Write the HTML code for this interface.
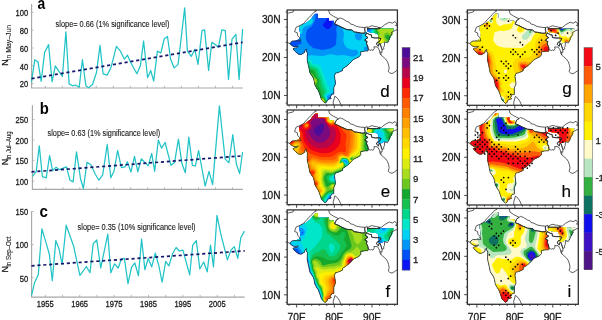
<!DOCTYPE html><html><head><meta charset="utf-8"><style>html,body{margin:0;padding:0;background:#fff;width:602px;height:320px;overflow:hidden}svg{display:block}</style></head><body>
<svg width="602" height="320" viewBox="0 0 602 320" style="will-change:transform" font-family='"Liberation Sans", sans-serif'>
<style>text{stroke:#1a1a1a;stroke-width:0.28px;paint-order:stroke}</style>
<rect width="602" height="320" fill="#fff"/>
<defs>
<clipPath id="fr"><rect x="0" y="0" width="110.2" height="94.8"/></clipPath>
<clipPath id="mm"><path d="M28.20,3.71 L30.69,3.71 L30.69,7.88 L41.85,7.88 L41.85,10.61 L46.37,10.61 L47.46,14.06 L51.12,15.46 L54.63,17.32 L59.57,19.48 L64.77,19.97 L66.92,21.87 L69.82,22.25 L74.38,23.12 L77.51,23.08 L78.42,21.98 L79.55,22.74 L78.42,25.39 L80.30,27.48 L78.42,28.99 L77.66,30.32 L79.92,31.46 L79.36,33.73 L80.49,36.38 L81.06,39.42 L80.64,40.97 L78.08,40.93 L73.44,41.69 L73.63,44.57 L71.63,46.81 L66.20,49.35 L61.98,53.82 L59.15,56.21 L55.38,58.67 L55.38,60.41 L53.50,61.36 L50.10,62.72 L48.33,62.91 L47.24,65.79 L47.99,70.72 L48.22,73.87 L46.60,77.47 L46.60,83.91 L44.64,84.10 L42.94,86.98 L44.07,88.23 L40.64,89.33 L39.36,91.91 L37.85,92.97 L34.27,89.44 L32.54,84.14 L31.10,80.31 L29.78,78.53 L27.75,74.89 L26.84,70.15 L26.16,67.77 L22.73,62.57 L21.19,55.22 L20.06,50.37 L20.06,45.78 L20.36,43.21 L19.04,40.93 L19.23,38.85 L17.72,40.55 L17.34,42.45 L13.87,44.49 L11.20,44.04 L8.29,41.69 L5.66,38.85 L6.79,38.09 L9.43,37.71 L11.12,36.19 L8.67,36.57 L6.41,36.57 L4.15,35.25 L2.56,33.39 L4.52,31.46 L9.05,30.51 L12.44,28.80 L13.20,25.01 L12.44,20.47 L12.06,17.05 L13.20,15.54 L18.47,13.27 L23.19,9.47 L27.14,4.55Z"/></clipPath>
<clipPath id="nm"><path d="M80.15,18.72 L106.16,18.72 L105.45,23.35 L102.66,28.27 L101.22,31.08 L97.00,31.84 L94.17,33.20 L91.35,33.20 L91.35,25.51 L89.95,23.38 L85.73,22.74 L80.87,21.98 L80.15,21.60Z"/></clipPath>
</defs>
<path d="M31.6,4.0 V88.0 H242.9" fill="none" stroke="#a8a8a8" stroke-width="1.15"/>
<path d="M31.6,83.6 h2" stroke="#a8a8a8" stroke-width="0.8"/>
<text x="28.2" y="87.50" font-size="8.6" text-anchor="end" fill="#1a1a1a" transform="translate(28.2 0) scale(0.88 1) translate(-28.2 0)">20</text>
<path d="M31.6,65.8 h2" stroke="#a8a8a8" stroke-width="0.8"/>
<text x="28.2" y="69.68" font-size="8.6" text-anchor="end" fill="#1a1a1a" transform="translate(28.2 0) scale(0.88 1) translate(-28.2 0)">40</text>
<path d="M31.6,48.0 h2" stroke="#a8a8a8" stroke-width="0.8"/>
<text x="28.2" y="51.86" font-size="8.6" text-anchor="end" fill="#1a1a1a" transform="translate(28.2 0) scale(0.88 1) translate(-28.2 0)">60</text>
<path d="M31.6,30.1 h2" stroke="#a8a8a8" stroke-width="0.8"/>
<text x="28.2" y="34.04" font-size="8.6" text-anchor="end" fill="#1a1a1a" transform="translate(28.2 0) scale(0.88 1) translate(-28.2 0)">80</text>
<path d="M31.6,12.3 h2" stroke="#a8a8a8" stroke-width="0.8"/>
<text x="28.2" y="16.22" font-size="8.6" text-anchor="end" fill="#1a1a1a" transform="translate(28.2 0) scale(0.88 1) translate(-28.2 0)">100</text>
<path d="M45.22,88.0 v-2.2" stroke="#a8a8a8" stroke-width="0.8"/>
<path d="M62.25,88.0 v-2.2" stroke="#a8a8a8" stroke-width="0.8"/>
<path d="M79.27,88.0 v-2.2" stroke="#a8a8a8" stroke-width="0.8"/>
<path d="M96.29,88.0 v-2.2" stroke="#a8a8a8" stroke-width="0.8"/>
<path d="M113.32,88.0 v-2.2" stroke="#a8a8a8" stroke-width="0.8"/>
<path d="M130.34,88.0 v-2.2" stroke="#a8a8a8" stroke-width="0.8"/>
<path d="M147.37,88.0 v-2.2" stroke="#a8a8a8" stroke-width="0.8"/>
<path d="M164.39,88.0 v-2.2" stroke="#a8a8a8" stroke-width="0.8"/>
<path d="M181.42,88.0 v-2.2" stroke="#a8a8a8" stroke-width="0.8"/>
<path d="M198.44,88.0 v-2.2" stroke="#a8a8a8" stroke-width="0.8"/>
<path d="M215.47,88.0 v-2.2" stroke="#a8a8a8" stroke-width="0.8"/>
<path d="M232.49,88.0 v-2.2" stroke="#a8a8a8" stroke-width="0.8"/>
<path d="M31.5,81.8 L34.8,59.7 L38.0,61.9 L41.2,81.3 L44.6,52.5 L48.6,44.6 L52.1,81.8 L55.3,65.9 L57.9,69.8 L62.4,76.5 L65.9,31.8 L69.1,83.9 L72.6,85.8 L75.2,85.0 L79.2,87.1 L82.4,59.7 L85.9,85.8 L88.5,87.7 L92.5,84.5 L96.5,72.5 L100.0,45.4 L103.1,73.8 L107.1,75.2 L111.1,67.2 L116.4,46.4 L120.4,51.2 L124.4,59.2 L127.5,55.2 L130.3,61.8 L136.9,73.7 L140.4,65.7 L143.6,41.0 L147.6,77.7 L150.7,70.5 L153.7,81.1 L157.4,51.1 L160.8,53.0 L164.3,38.7 L167.5,36.5 L170.6,59.1 L174.1,67.9 L178.1,64.4 L184.7,7.8 L187.4,51.1 L191.3,56.4 L194.8,49.3 L198.0,64.4 L202.0,30.7 L204.6,29.9 L208.6,70.5 L211.8,42.4 L215.2,44.5 L218.4,47.2 L221.9,29.9 L225.3,30.7 L228.5,79.5 L232.0,39.2 L235.9,34.4 L239.1,79.5 L242.6,29.1" fill="none" stroke="#22c3c6" stroke-width="1.25" stroke-linejoin="round"/>
<path d="M31.5,78.6 L242.6,42.4" stroke="#15166b" stroke-width="1.7" stroke-dasharray="3.1 2.8" stroke-linecap="butt"/>
<text x="37.6" y="9.4" font-size="16.5" font-weight="bold" fill="#000" style="stroke:none" transform="translate(37.6 0) scale(0.84 1) translate(-37.6 0)">a</text>
<text x="55.6" y="27.0" font-size="8.3" fill="#1a1a1a" style="stroke-width:0.12px" textLength="113.8" lengthAdjust="spacingAndGlyphs">slope= 0.66 (1% significance level)</text>
<g transform="translate(8.3 65.8) rotate(-90)"><text x="0" y="0" font-size="8.8" fill="#1a1a1a">N</text><text x="5.9" y="3.1" font-size="6.3" fill="#1a1a1a" style="stroke-width:0.1px" textLength="34.9" lengthAdjust="spacingAndGlyphs">in May–Jun</text></g>
<path d="M32.4,105.2 V189.4 H242.9" fill="none" stroke="#a8a8a8" stroke-width="1.15"/>
<path d="M32.4,181.1 h2" stroke="#a8a8a8" stroke-width="0.8"/>
<text x="28.2" y="185.00" font-size="8.6" text-anchor="end" fill="#1a1a1a" transform="translate(28.2 0) scale(0.88 1) translate(-28.2 0)">100</text>
<path d="M32.4,160.6 h2" stroke="#a8a8a8" stroke-width="0.8"/>
<text x="28.2" y="164.50" font-size="8.6" text-anchor="end" fill="#1a1a1a" transform="translate(28.2 0) scale(0.88 1) translate(-28.2 0)">150</text>
<path d="M32.4,140.1 h2" stroke="#a8a8a8" stroke-width="0.8"/>
<text x="28.2" y="144.00" font-size="8.6" text-anchor="end" fill="#1a1a1a" transform="translate(28.2 0) scale(0.88 1) translate(-28.2 0)">200</text>
<path d="M32.4,119.6 h2" stroke="#a8a8a8" stroke-width="0.8"/>
<text x="28.2" y="123.50" font-size="8.6" text-anchor="end" fill="#1a1a1a" transform="translate(28.2 0) scale(0.88 1) translate(-28.2 0)">250</text>
<path d="M45.96,189.4 v-2.2" stroke="#a8a8a8" stroke-width="0.8"/>
<path d="M62.91,189.4 v-2.2" stroke="#a8a8a8" stroke-width="0.8"/>
<path d="M79.86,189.4 v-2.2" stroke="#a8a8a8" stroke-width="0.8"/>
<path d="M96.81,189.4 v-2.2" stroke="#a8a8a8" stroke-width="0.8"/>
<path d="M113.76,189.4 v-2.2" stroke="#a8a8a8" stroke-width="0.8"/>
<path d="M130.71,189.4 v-2.2" stroke="#a8a8a8" stroke-width="0.8"/>
<path d="M147.66,189.4 v-2.2" stroke="#a8a8a8" stroke-width="0.8"/>
<path d="M164.61,189.4 v-2.2" stroke="#a8a8a8" stroke-width="0.8"/>
<path d="M181.56,189.4 v-2.2" stroke="#a8a8a8" stroke-width="0.8"/>
<path d="M198.51,189.4 v-2.2" stroke="#a8a8a8" stroke-width="0.8"/>
<path d="M215.46,189.4 v-2.2" stroke="#a8a8a8" stroke-width="0.8"/>
<path d="M232.41,189.4 v-2.2" stroke="#a8a8a8" stroke-width="0.8"/>
<path d="M32.5,176.3 L36.2,171.6 L39.3,145.9 L42.4,176.7 L46.2,177.8 L49.6,155.6 L52.6,170.6 L56.1,167.3 L59.5,169.7 L62.7,168.4 L66.5,166.9 L69.9,180.0 L73.1,181.9 L76.5,151.9 L80.5,178.7 L83.4,188.5 L87.0,162.4 L90.9,164.7 L95.3,174.2 L98.9,180.2 L102.7,174.8 L107.2,144.5 L110.8,177.8 L114.0,171.3 L117.6,150.5 L121.4,167.7 L125.0,166.8 L127.4,161.8 L130.9,172.1 L134.5,156.4 L137.8,171.9 L141.3,158.8 L144.9,162.4 L148.2,165.9 L151.7,153.4 L154.7,171.3 L158.3,140.1 L161.5,148.1 L165.1,142.5 L171.0,165.3 L174.6,162.4 L178.4,139.2 L182.0,163.8 L185.3,172.7 L188.8,137.1 L192.4,165.3 L195.4,165.9 L198.6,150.5 L205.2,186.1 L209.0,171.3 L212.6,184.6 L219.4,105.9 L225.1,158.8 L228.9,162.9 L232.8,134.7 L236.3,163.8 L239.6,173.6 L242.6,152.0" fill="none" stroke="#22c3c6" stroke-width="1.25" stroke-linejoin="round"/>
<path d="M31.5,171.9 L243.0,155.8" stroke="#15166b" stroke-width="1.7" stroke-dasharray="3.1 2.8" stroke-linecap="butt"/>
<text x="39.8" y="113.6" font-size="16.5" font-weight="bold" fill="#000" style="stroke:none" transform="translate(39.8 0) scale(0.90 1) translate(-39.8 0)">b</text>
<text x="47.6" y="135.6" font-size="8.3" fill="#1a1a1a" style="stroke-width:0.12px" textLength="112.6" lengthAdjust="spacingAndGlyphs">slope= 0.63 (1% significance level)</text>
<g transform="translate(8.3 165.3) rotate(-90)"><text x="0" y="0" font-size="8.8" fill="#1a1a1a">N</text><text x="5.9" y="3.1" font-size="6.3" fill="#1a1a1a" style="stroke-width:0.1px" textLength="28.0" lengthAdjust="spacingAndGlyphs">in Jul–Aug</text></g>
<path d="M31.6,211.3 V297.1 H244.7" fill="none" stroke="#a8a8a8" stroke-width="1.15"/>
<path d="M31.6,277.7 h2" stroke="#a8a8a8" stroke-width="0.8"/>
<text x="28.2" y="281.60" font-size="8.6" text-anchor="end" fill="#1a1a1a" transform="translate(28.2 0) scale(0.88 1) translate(-28.2 0)">50</text>
<path d="M31.6,244.6 h2" stroke="#a8a8a8" stroke-width="0.8"/>
<text x="28.2" y="248.50" font-size="8.6" text-anchor="end" fill="#1a1a1a" transform="translate(28.2 0) scale(0.88 1) translate(-28.2 0)">100</text>
<path d="M31.6,211.5 h2" stroke="#a8a8a8" stroke-width="0.8"/>
<text x="28.2" y="215.40" font-size="8.6" text-anchor="end" fill="#1a1a1a" transform="translate(28.2 0) scale(0.88 1) translate(-28.2 0)">150</text>
<path d="M45.36,297.1 v-2.2" stroke="#a8a8a8" stroke-width="0.8"/>
<path d="M62.55,297.1 v-2.2" stroke="#a8a8a8" stroke-width="0.8"/>
<path d="M79.75,297.1 v-2.2" stroke="#a8a8a8" stroke-width="0.8"/>
<path d="M96.94,297.1 v-2.2" stroke="#a8a8a8" stroke-width="0.8"/>
<path d="M114.14,297.1 v-2.2" stroke="#a8a8a8" stroke-width="0.8"/>
<path d="M131.33,297.1 v-2.2" stroke="#a8a8a8" stroke-width="0.8"/>
<path d="M148.53,297.1 v-2.2" stroke="#a8a8a8" stroke-width="0.8"/>
<path d="M165.72,297.1 v-2.2" stroke="#a8a8a8" stroke-width="0.8"/>
<path d="M182.92,297.1 v-2.2" stroke="#a8a8a8" stroke-width="0.8"/>
<path d="M200.11,297.1 v-2.2" stroke="#a8a8a8" stroke-width="0.8"/>
<path d="M217.31,297.1 v-2.2" stroke="#a8a8a8" stroke-width="0.8"/>
<path d="M234.50,297.1 v-2.2" stroke="#a8a8a8" stroke-width="0.8"/>
<path d="M31.5,295.6 L34.5,282.8 L38.3,274.8 L41.9,228.8 L45.4,240.6 L49.3,254.0 L52.3,280.7 L55.8,240.6 L59.1,249.0 L62.1,264.4 L66.2,225.2 L70.1,236.2 L73.6,246.0 L79.9,275.4 L86.4,266.5 L90.0,272.7 L93.2,243.6 L96.8,240.0 L100.7,268.0 L107.8,234.1 L110.8,272.7 L114.6,263.8 L118.2,268.0 L121.4,259.0 L124.4,258.4 L128.0,283.7 L131.5,267.4 L134.8,262.9 L138.4,275.7 L141.6,239.1 L144.9,269.7 L148.2,258.4 L151.7,266.8 L155.3,253.1 L158.7,265.0 L162.1,282.2 L165.7,261.4 L168.9,265.9 L172.5,254.0 L176.1,247.5 L179.3,251.0 L182.9,250.1 L189.7,274.8 L192.7,245.1 L196.3,240.6 L199.8,268.8 L203.7,262.0 L207.2,271.8 L210.5,245.1 L213.5,266.8 L217.0,215.4 L220.6,233.2 L227.4,259.9 L231.0,250.1 L234.3,246.6 L237.8,258.4 L240.8,237.7 L244.4,231.1" fill="none" stroke="#22c3c6" stroke-width="1.25" stroke-linejoin="round"/>
<path d="M31.5,265.8 L244.7,250.9" stroke="#15166b" stroke-width="1.7" stroke-dasharray="3.1 2.8" stroke-linecap="butt"/>
<text x="39.6" y="217.4" font-size="16.5" font-weight="bold" fill="#000" style="stroke:none" transform="translate(39.6 0) scale(0.92 1) translate(-39.6 0)">c</text>
<text x="77.6" y="229.8" font-size="8.3" fill="#1a1a1a" style="stroke-width:0.12px" textLength="118.0" lengthAdjust="spacingAndGlyphs">slope= 0.35 (10% significance level)</text>
<g transform="translate(8.3 272.4) rotate(-90)"><text x="0" y="0" font-size="8.8" fill="#1a1a1a">N</text><text x="5.9" y="3.1" font-size="6.3" fill="#1a1a1a" style="stroke-width:0.1px" textLength="30.0" lengthAdjust="spacingAndGlyphs">in Sep–Oct</text></g>
<text x="45.26" y="307.2" font-size="8.6" text-anchor="middle" fill="#1a1a1a" transform="translate(45.26 0) scale(0.88 1) translate(-45.26 0)">1955</text>
<text x="79.65" y="307.2" font-size="8.6" text-anchor="middle" fill="#1a1a1a" transform="translate(79.65 0) scale(0.88 1) translate(-79.65 0)">1965</text>
<text x="114.04" y="307.2" font-size="8.6" text-anchor="middle" fill="#1a1a1a" transform="translate(114.04 0) scale(0.88 1) translate(-114.04 0)">1975</text>
<text x="148.43" y="307.2" font-size="8.6" text-anchor="middle" fill="#1a1a1a" transform="translate(148.43 0) scale(0.88 1) translate(-148.43 0)">1985</text>
<text x="182.82" y="307.2" font-size="8.6" text-anchor="middle" fill="#1a1a1a" transform="translate(182.82 0) scale(0.88 1) translate(-182.82 0)">1995</text>
<text x="217.21" y="307.2" font-size="8.6" text-anchor="middle" fill="#1a1a1a" transform="translate(217.21 0) scale(0.88 1) translate(-217.21 0)">2005</text>
<g transform="translate(287.2 10.0) scale(1.0000 1.0021)">
<g clip-path="url(#fr)">
<g clip-path="url(#mask)">
<g clip-path="url(#mm)"><rect x="-3" y="-3" width="117" height="101" fill="#0a14f5"/>
<path d="M-2.5,-3.0 113.5,-3.0 113.5,98.5 -3.0,98.5 -3.0,-3.0ZM40.1,8.0 39.5,8.7 38.5,11.3 36.1,14.0 35.8,15.0 36.2,16.0 38.0,17.9 39.5,18.9 40.5,19.1 42.0,18.6 43.5,17.1 45.0,14.8 45.5,13.0 45.1,11.5 43.0,8.4 42.0,7.7 40.5,7.7Z" fill="#0050f5" fill-rule="evenodd"/>
<path d="M-2.5,-3.0 30.9,-3.0 29.2,0.0 28.3,2.5 28.0,9.0 27.5,11.5 24.5,16.3 21.2,18.5 19.8,20.0 18.8,24.0 18.6,28.5 19.2,30.5 21.0,33.7 25.5,37.6 27.5,38.4 30.5,38.8 35.0,39.8 42.0,38.6 44.0,38.0 47.5,36.0 48.9,34.0 49.1,29.0 49.6,25.0 49.0,19.5 50.2,14.5 50.3,8.5 49.9,5.0 49.2,2.0 46.8,-3.0 113.5,-3.0 113.5,98.5 -3.0,98.5 -3.0,-3.0ZM1.7,28.5 0.5,29.5 -0.0,30.5 -0.1,33.0 1.0,35.0 3.5,36.7 5.5,37.0 8.0,36.6 11.5,34.6 14.0,33.7 14.5,33.0 14.0,31.2 12.0,29.8 7.5,29.3 4.0,28.1 2.0,28.3ZM41.2,87.0 41.0,88.0 42.0,88.3 42.7,88.0 43.0,87.5 42.9,87.0 41.5,86.8Z" fill="#0096f8" fill-rule="evenodd"/>
<path d="M-2.5,-3.0 15.0,-3.0 18.0,10.1 18.5,10.7 19.5,11.0 20.5,10.2 21.5,8.2 22.5,7.8 24.0,8.1 25.0,8.7 25.7,10.0 25.8,11.0 25.3,12.5 24.5,13.6 23.0,14.7 19.0,15.6 17.0,16.9 16.0,18.0 15.3,19.5 15.0,22.7 14.5,23.4 13.5,23.9 12.0,24.0 10.0,23.5 6.7,21.5 5.5,21.1 0.5,20.9 -3.0,21.4 -3.0,-3.0ZM66.0,-3.0 113.5,-3.0 113.5,98.5 -3.0,98.5 -3.0,39.9 1.5,42.2 10.5,45.8 12.5,46.1 24.5,45.2 35.0,46.0 37.5,45.6 41.0,44.4 43.5,44.2 45.5,44.3 50.0,45.3 56.5,45.0 65.5,46.7 67.0,46.5 68.5,45.7 70.3,44.5 71.0,43.5 71.0,42.0 70.0,40.4 68.5,39.6 64.5,39.6 60.9,38.5 58.9,37.0 57.0,34.0 56.0,30.0 56.9,23.5 55.6,19.5 54.9,15.0 55.2,13.0 56.5,10.5 65.9,-3.0ZM69.3,23.0 68.2,24.0 67.7,25.0 67.7,26.5 68.2,28.0 69.0,29.2 70.5,30.2 72.0,30.4 73.0,30.1 74.0,29.4 74.9,28.0 75.2,26.5 74.8,25.0 74.0,24.0 72.5,22.9 71.0,22.5 69.5,22.9ZM79.7,36.0 78.0,36.6 76.8,37.5 76.4,38.5 76.7,39.5 78.0,40.7 80.0,41.6 81.5,41.7 83.0,41.3 84.2,40.0 84.4,39.0 84.2,38.0 83.4,37.0 82.5,36.4 80.0,35.9ZM53.1,75.0 50.5,76.6 44.9,83.0 40.0,85.5 39.7,86.5 39.8,87.5 40.7,89.0 42.0,89.8 44.5,90.3 47.0,90.2 50.0,89.7 53.0,88.7 55.6,87.5 59.5,84.5 60.9,82.5 61.6,80.5 61.5,78.5 60.8,77.0 59.5,75.7 58.0,74.9 56.0,74.6 53.5,74.9Z" fill="#00d2f5" fill-rule="evenodd"/>
<path d="M6.0,7.5 8.0,7.4 10.0,7.9 12.0,9.0 14.0,10.9 15.1,12.5 15.4,14.0 15.2,15.5 14.2,17.0 11.5,18.2 10.0,18.4 7.8,17.5 5.5,15.5 3.9,13.0 3.4,10.5 4.2,8.5 6.0,7.5ZM23.0,9.9 24.0,10.3 24.3,11.0 24.0,12.1 23.0,12.8 22.0,12.7 21.5,12.0 21.7,11.0 22.6,10.0ZM-2.5,46.7 4.0,48.6 10.5,49.8 19.0,50.2 21.5,49.4 22.5,49.5 24.3,50.5 25.2,53.0 26.0,53.8 30.5,54.3 33.0,55.6 34.2,57.5 35.0,60.5 36.6,64.0 40.2,74.5 41.8,77.0 42.5,79.0 42.5,81.0 41.9,82.5 38.5,84.8 38.4,86.0 39.4,88.5 40.5,89.9 42.5,91.4 45.0,92.7 50.5,94.6 56.5,95.9 63.0,96.7 70.5,96.9 78.0,96.5 86.0,95.7 113.5,91.6 113.5,98.5 -3.0,98.5 -3.0,46.5Z" fill="#00e6c8" fill-rule="evenodd"/>
<path d="M11.5,14.5 12.5,14.6 13.0,15.2 13.0,16.0 12.0,16.3 11.4,16.0 11.1,15.0 11.5,14.5ZM21.5,51.5 22.6,52.0 23.3,54.0 24.1,55.0 29.5,57.3 31.7,59.5 34.7,67.0 37.2,74.5 39.8,80.5 39.8,81.5 39.4,82.5 37.5,84.5 37.3,85.5 37.6,86.5 39.5,89.8 41.5,92.2 49.2,98.5 -3.0,98.5 -3.0,52.1 5.5,53.2 13.5,53.4 18.5,53.0 21.5,51.5Z" fill="#00d68c" fill-rule="evenodd"/>
<path d="M16.0,56.5 19.5,56.4 25.5,57.8 28.0,59.0 29.4,60.5 31.2,65.5 33.1,69.0 34.3,75.0 37.0,81.0 37.1,82.0 36.3,85.0 36.4,86.0 40.5,92.7 44.6,98.5 -3.0,98.5 -3.0,57.4 5.5,57.3 15.7,56.5Z" fill="#14c050" fill-rule="evenodd"/>
<path d="M19.5,59.5 25.0,59.6 26.1,60.0 27.0,61.0 28.7,66.0 30.9,68.5 31.4,69.5 31.6,71.5 31.2,75.0 34.2,82.0 35.0,86.0 37.9,89.5 41.7,98.5 -3.0,98.5 -3.0,62.9 15.0,59.9 19.3,59.5Z" fill="#14a82c" fill-rule="evenodd"/>
<path d="M17.5,63.0 21.5,62.5 24.0,63.0 25.0,63.8 27.3,67.0 29.7,69.0 30.2,71.0 29.0,74.0 28.8,75.0 29.4,78.0 33.0,86.0 34.2,87.5 36.5,88.6 37.5,90.0 38.2,92.5 39.3,98.5 -3.0,98.5 -3.0,68.9 17.4,63.0Z" fill="#6cc81e" fill-rule="evenodd"/>
<path d="M19.5,66.4 21.5,66.2 23.5,66.5 27.5,68.3 28.8,69.5 29.0,70.5 28.8,71.5 27.4,74.0 26.7,76.0 26.6,78.0 26.9,80.0 28.5,83.5 30.9,86.5 33.0,88.1 36.0,88.9 36.9,90.0 37.3,92.5 36.9,98.5 -3.0,98.5 -3.0,76.6 13.8,68.5 19.0,66.5Z" fill="#a8dc1e" fill-rule="evenodd"/>
<path d="M23.5,69.5 25.5,69.0 27.0,69.1 27.6,69.5 28.0,70.5 27.0,71.9 23.4,74.5 22.1,76.5 21.9,79.5 23.2,83.0 25.6,86.0 28.5,88.1 31.5,89.2 35.5,89.4 36.2,90.0 36.4,91.0 36.1,92.5 33.9,98.5 -3.0,98.5 -3.0,88.5 5.5,82.0 16.5,74.7 21.7,70.5 23.5,69.5Z" fill="#dcec10" fill-rule="evenodd"/>
<path d="M35.0,90.4 35.1,91.0 34.5,91.4 34.2,91.0 34.6,90.5ZM20.5,96.0 21.5,96.2 22.0,96.5 21.9,97.0 20.0,98.3 19.0,98.2 18.5,97.5 18.6,97.0 19.1,96.5 20.5,96.0Z" fill="#fff000" fill-rule="evenodd"/>
</g>
<g clip-path="url(#nm)"><rect x="-3" y="-3" width="117" height="101" fill="#0a14f5"/>
<path d="M-2.5,-3.0 113.5,-3.0 113.5,98.5 -3.0,98.5 -3.0,-3.0Z" fill="#0050f5" fill-rule="evenodd"/>
<path d="M-2.5,-3.0 113.5,-3.0 113.5,98.5 -3.0,98.5 -3.0,-3.0ZM73.0,14.5 72.2,15.5 72.3,16.5 73.3,18.0 75.2,19.5 77.3,20.5 79.5,21.0 81.0,20.8 82.1,20.0 82.4,19.0 82.0,18.0 79.5,15.8 76.0,14.4 74.5,14.2 73.0,14.5Z" fill="#0096f8" fill-rule="evenodd"/>
<path d="M71.5,-3.0 113.5,-3.0 113.5,98.5 -3.0,98.5 -3.0,16.6 31.8,21.5 54.5,24.0 70.5,24.6 76.0,24.3 80.0,23.4 82.5,22.2 84.0,20.6 84.4,19.5 84.0,17.5 80.5,10.7 71.2,-3.0Z" fill="#00d2f5" fill-rule="evenodd"/>
<path d="M81.0,-3.0 113.5,-3.0 113.5,98.5 -3.0,98.5 -3.0,52.1 66.0,30.9 76.5,27.3 82.0,24.6 83.5,23.5 84.8,22.0 85.4,20.5 85.5,18.5 84.5,12.8 80.7,-3.0Z" fill="#00e6c8" fill-rule="evenodd"/>
<path d="M87.5,-3.0 113.5,-3.0 113.5,98.5 -3.0,98.5 -3.0,84.3 49.8,48.0 80.5,27.8 85.2,24.0 86.1,22.5 86.5,20.5 87.2,-3.0Z" fill="#00d68c" fill-rule="evenodd"/>
<path d="M93.5,-3.0 113.5,-3.0 113.5,98.5 21.4,98.5 44.8,70.0 63.7,48.0 74.8,36.0 87.4,24.0 87.9,23.0 87.6,19.0 88.5,13.7 93.3,-3.0Z" fill="#14c050" fill-rule="evenodd"/>
<path d="M101.0,-3.0 113.5,-3.0 113.5,98.5 48.5,98.5 64.2,64.0 74.3,44.0 78.1,37.5 81.6,32.5 84.6,29.0 89.7,24.0 89.7,23.0 88.7,20.0 88.8,18.5 89.5,16.1 93.5,8.3 100.8,-3.0ZM99.8,27.0 100.0,27.4 100.5,27.3 100.5,26.8 100.0,26.7Z" fill="#14a82c" fill-rule="evenodd"/>
<path d="M113.5,-2.6 113.5,98.5 70.8,98.5 74.8,70.5 77.5,54.5 79.9,43.5 82.4,36.0 85.5,30.5 90.8,24.5 91.0,23.0 90.0,21.0 89.7,19.5 90.2,18.0 91.5,16.0 95.0,12.1 100.0,7.6 113.3,-2.5ZM99.3,25.0 98.5,25.7 98.2,26.5 98.3,27.5 98.8,28.5 100.5,29.6 101.5,29.7 102.5,29.3 103.3,28.0 102.9,26.5 101.5,25.2 100.5,24.8 99.5,24.9Z" fill="#6cc81e" fill-rule="evenodd"/>
<path d="M112.5,11.4 113.5,11.3 113.5,98.5 95.1,98.5 85.6,50.0 84.8,42.0 85.3,36.0 86.1,33.0 87.4,30.5 92.6,24.5 92.8,23.5 92.6,22.5 90.8,20.0 91.5,18.7 95.5,16.3 101.0,14.0 105.5,12.7 112.0,11.5ZM99.2,22.5 97.2,23.5 96.5,25.5 97.0,28.0 98.5,30.5 100.5,32.3 103.0,33.4 105.5,33.4 107.6,32.5 108.9,31.0 109.4,29.5 109.3,28.0 108.6,26.5 106.7,25.0 103.0,23.9 101.0,22.8 99.5,22.5Z" fill="#a8dc1e" fill-rule="evenodd"/>
<path d="M92.5,27.3 94.0,27.1 95.5,28.5 96.9,31.0 98.8,36.5 99.8,40.0 100.0,42.5 99.5,44.5 98.5,45.4 97.5,45.6 96.0,45.5 93.0,44.0 90.5,41.6 88.6,38.0 88.0,35.0 88.4,32.0 89.9,29.5 92.1,27.5Z" fill="#dcec10" fill-rule="evenodd"/>
<path d="M93.0,28.9 93.5,29.0 94.3,30.0 94.5,31.9 93.5,34.2 93.0,34.7 92.0,34.9 90.5,34.0 90.1,32.5 91.0,30.7 92.7,29.0Z" fill="#fff000" fill-rule="evenodd"/>
</g>

</g>
<path d="M112.46,16.07 L112.72,17.51 L111.40,18.19 L111.71,20.54 L109.03,19.86 L104.13,22.47 L104.28,24.64 L102.17,27.82 L101.98,29.64 L100.32,32.78 L97.38,31.91 L97.23,35.85 L96.36,37.14 L96.78,38.73 L94.89,39.64 L92.93,33.62 L91.87,33.66 L91.27,36.04 L89.20,34.11 L90.37,31.95 L92.06,31.72 L93.80,28.50 L91.61,27.86 L88.10,27.93 L84.52,27.40 L84.18,24.75 L82.41,24.60 L79.40,22.93 L78.08,25.51 L80.79,27.52 L78.45,28.92 L77.59,30.32 L79.92,31.34 L79.28,33.62 L80.60,36.46 L81.17,39.57 L80.64,40.97 L78.08,40.93 L73.44,41.69 L73.63,44.57 L71.63,46.81 L66.20,49.35 L61.98,53.82 L59.15,56.21 L55.38,58.67 L55.38,60.41 L53.50,61.36 L50.10,62.72 L48.33,62.91 L47.24,65.79 L47.99,70.72 L48.22,73.87 L46.60,77.47 L46.60,83.91 L44.64,84.10 L42.94,86.98 L44.07,88.23 L40.64,89.33 L39.36,91.91 L37.85,92.97 L34.27,89.44 L32.54,84.14 L31.10,80.31 L29.78,78.53 L27.75,74.89 L26.84,70.15 L26.16,67.77 L22.73,62.57 L21.19,55.22 L20.06,50.37 L20.06,45.78 L20.36,43.21 L19.04,40.93 L19.23,38.85 L17.72,40.55 L17.34,42.45 L13.87,44.49 L11.20,44.04 L8.29,41.69 L5.66,38.85 L6.79,38.09 L9.43,37.71 L11.12,36.19 L8.67,36.57 L6.41,36.57 L4.15,35.25 L2.56,33.39 L5.05,30.85 L13.35,30.85 L12.59,27.59 L10.48,25.70 L10.07,22.78 L7.35,21.60 L8.90,17.21 L12.82,15.54 L16.70,13.27 L19.79,9.47 L22.62,6.82 L24.50,4.70 L26.77,2.27 L29.26,0.87 L26.20,-0.99 L24.88,-3.56 L23.56,-6.90 L25.41,-8.53 L31.14,-7.58 L35.32,-8.15 L38.98,-11.33 L43.02,-6.90 L42.64,-3.83 L44.15,-1.86 L44.03,0.08 L41.32,-0.45 L42.37,3.71 L46.07,6.14 L51.31,8.79 L48.93,10.50 L47.46,14.06 L51.12,15.46 L54.63,17.32 L59.57,19.48 L64.77,19.97 L66.92,21.87 L69.82,22.25 L74.38,23.12 L77.51,23.08 L77.93,21.57 L77.44,19.14 L77.74,17.51 L80.04,16.71 L80.34,19.71 L80.45,18.50 L83.84,18.65 L86.22,18.57 L89.42,18.65 L92.48,18.57 L92.74,18.00 L91.23,17.43 L94.25,17.43 L97.68,14.63 L102.05,12.20 L105.18,13.15 L107.90,11.56 L109.67,13.91 L108.39,15.50 L112.46,16.07Z M77.74,17.51 L77.44,19.14 L77.93,21.57 L77.51,23.08 L74.38,23.12 L69.82,22.25 L66.92,21.87 L64.77,19.97 L59.57,19.48 L54.63,17.32 L51.12,15.46 L47.46,14.06 L48.93,10.50 L51.31,8.79 L52.89,7.88 L55.91,9.02 L59.72,11.52 L61.83,12.05 L63.07,13.87 L66.01,14.63 L69.07,16.30 L73.33,17.17 L77.74,17.51Z M91.23,17.43 L92.74,18.00 L92.48,18.57 L89.42,18.65 L86.22,18.57 L83.84,18.65 L80.45,18.50 L80.34,17.81 L82.86,16.30 L84.90,15.73 L87.58,16.49 L89.58,16.68 L91.23,17.43Z M94.89,39.64 L94.82,42.37 L93.50,41.77 L93.76,44.84 L92.67,42.86 L92.48,40.93 L91.72,39.11 L90.18,36.88 L86.71,36.73 L87.05,38.32 L85.84,40.40 L84.26,39.64 L83.69,40.33 L82.64,39.91 L81.17,39.57 L80.60,36.46 L79.28,33.62 L79.92,31.34 L77.59,30.32 L78.45,28.92 L80.79,27.52 L78.08,25.51 L79.40,22.93 L82.41,24.60 L84.18,24.75 L84.52,27.40 L88.10,27.93 L91.61,27.86 L93.80,28.50 L92.06,31.72 L90.37,31.95 L89.20,34.11 L91.27,36.04 L91.87,33.66 L92.93,33.62 L94.89,39.64Z M53.87,94.67 L53.31,98.62 L51.72,99.68 L48.44,100.55 L46.63,97.55 L45.99,92.10 L47.69,85.96 L50.29,88.04 L52.03,90.73 L53.87,94.67Z M93.76,44.84 L95.76,46.62 L98.40,48.89 L100.28,51.54 L101.41,54.95 L101.98,57.99 L101.04,61.40 L102.54,62.72 L104.81,63.48 L107.07,62.16 L109.71,60.26 M2.56,33.39 L-0.23,32.44 L-1.13,30.32 M-0.75,3.79 L1.51,3.03 L3.77,2.46 L6.03,1.90 L6.97,-0.38" fill="none" stroke="#2a2a2a" stroke-width="0.75" stroke-linejoin="round"/>
</g>
<rect x="0" y="0" width="110.2" height="94.8" fill="none" stroke="#333" stroke-width="1.3"/>
<path d="M0,92.86 h-1.6 M0,85.28 h-3.2 M0,77.70 h-1.6 M0,70.11 h-1.6 M0,62.54 h-1.6 M0,54.95 h-1.6 M0,47.38 h-3.2 M0,39.80 h-1.6 M0,32.22 h-1.6 M0,24.64 h-1.6 M0,17.05 h-1.6 M0,9.47 h-3.2 M0,1.90 h-1.6 M1.89,94.8 v1.6 M9.43,94.8 v3.2 M16.96,94.8 v1.6 M24.50,94.8 v1.6 M32.05,94.8 v1.6 M39.59,94.8 v1.6 M47.12,94.8 v3.2 M54.66,94.8 v1.6 M62.20,94.8 v1.6 M69.75,94.8 v1.6 M77.28,94.8 v1.6 M84.83,94.8 v3.2 M92.36,94.8 v1.6 M99.91,94.8 v1.6 M107.45,94.8 v1.6" stroke="#333" stroke-width="0.9"/>
<text x="-6.6" y="13.47" font-size="10.2" text-anchor="end" fill="#1a1a1a">30N</text>
<text x="-6.6" y="51.38" font-size="10.2" text-anchor="end" fill="#1a1a1a">20N</text>
<text x="-6.6" y="89.28" font-size="10.2" text-anchor="end" fill="#1a1a1a">10N</text>
<text x="102.6" y="87.1" font-size="17" fill="#000" text-anchor="end" style="stroke-width:0.15px">d</text>
</g>
<g transform="translate(287.2 110.0) scale(1.0000 0.9979)">
<g clip-path="url(#fr)">
<g clip-path="url(#mask)">
<g clip-path="url(#mm)"><rect x="-3" y="-3" width="117" height="101" fill="#0a14f5"/>
<path d="M-2.5,-3.0 113.5,-3.0 113.5,81.6 104.0,86.9 96.0,90.6 89.0,93.3 75.8,97.5 73.5,98.5 -3.0,98.5 -3.0,-3.0Z" fill="#0050f5" fill-rule="evenodd"/>
<path d="M-2.5,-3.0 113.5,-3.0 113.5,62.1 104.6,70.0 98.5,74.6 91.5,78.7 84.5,81.7 79.5,83.2 68.5,85.8 59.0,89.1 55.0,90.0 52.0,90.1 49.5,89.6 47.5,88.8 44.0,86.5 43.0,86.4 42.3,87.5 42.5,89.3 46.4,98.5 -3.0,98.5 -3.0,-3.0ZM48.4,67.0 48.3,67.5 49.0,70.0 49.5,70.2 50.4,70.0 51.1,69.0 50.7,68.0 49.5,67.0 48.5,66.9Z" fill="#0096f8" fill-rule="evenodd"/>
<path d="M-2.5,-3.0 113.5,-3.0 113.5,41.3 110.0,45.4 101.9,57.0 98.0,62.0 93.1,67.0 87.7,71.0 83.0,73.5 78.5,75.1 74.0,76.2 66.0,77.4 63.5,78.1 61.5,79.5 56.8,84.0 53.5,85.7 50.0,86.3 44.0,85.4 43.0,85.4 42.0,85.9 40.9,87.5 40.5,90.0 40.7,93.0 41.7,98.5 -3.0,98.5 -3.0,-3.0ZM55.6,50.5 57.0,51.3 59.5,53.7 60.5,53.7 60.7,53.0 60.6,52.5 59.0,50.4 56.0,50.1ZM48.0,66.0 47.2,66.5 46.9,67.5 48.5,70.8 49.5,71.3 51.5,71.5 53.0,71.2 54.1,70.5 54.2,69.0 53.2,67.5 50.5,66.0 48.5,65.9Z" fill="#00d2f5" fill-rule="evenodd"/>
<path d="M-2.5,-3.0 113.5,-3.0 113.5,22.9 107.6,28.0 103.3,33.0 100.4,38.0 95.4,50.5 92.2,56.5 90.2,59.5 87.6,62.5 82.5,66.7 79.5,68.3 76.0,69.7 72.5,70.4 69.0,70.7 66.0,70.5 63.0,69.8 56.0,66.5 52.0,65.2 49.0,65.0 46.0,66.2 45.3,67.5 45.3,69.0 48.1,71.5 52.4,73.5 54.5,75.0 55.4,77.0 55.4,79.0 54.2,81.5 51.5,83.6 48.5,84.5 43.0,84.6 42.0,85.0 40.7,86.0 39.6,88.0 38.9,90.5 38.6,98.5 -3.0,98.5 -3.0,-3.0ZM56.2,49.5 55.2,50.0 55.0,50.5 55.3,51.0 57.0,51.9 59.0,54.3 60.0,54.6 60.5,54.4 61.0,53.8 61.1,53.0 59.5,50.0 56.5,49.5Z" fill="#00e6c8" fill-rule="evenodd"/>
<path d="M-2.5,-3.0 113.5,-3.0 113.5,8.7 100.0,20.5 96.2,24.5 93.7,28.0 92.4,30.5 91.4,33.5 89.7,45.0 88.0,51.0 84.8,57.0 82.9,59.5 80.3,62.0 76.0,64.7 71.5,66.1 67.0,66.2 59.0,64.5 50.5,64.0 48.5,64.4 46.0,65.3 43.5,67.5 42.7,69.0 43.0,70.0 43.6,70.5 47.0,71.7 51.1,74.5 52.5,76.5 52.6,79.0 51.5,81.0 49.6,82.5 47.5,83.2 42.5,83.9 41.0,84.7 39.6,86.0 38.1,88.5 37.3,90.5 36.1,98.5 -3.0,98.5 -3.0,-3.0ZM55.1,49.5 54.5,50.5 54.7,51.0 56.6,52.0 59.0,55.2 60.0,55.5 60.5,55.3 61.1,54.5 61.4,53.0 59.7,49.5 57.0,49.1 55.5,49.3Z" fill="#00d68c" fill-rule="evenodd"/>
<path d="M-2.5,-3.0 111.2,-3.0 91.0,18.5 88.0,22.1 86.1,25.0 85.0,27.6 84.3,31.0 84.6,41.5 83.8,47.5 82.8,50.5 81.1,54.0 79.2,57.0 77.4,59.0 74.5,61.2 71.0,62.6 67.0,62.9 61.5,61.4 60.0,61.3 55.8,62.5 48.5,63.6 43.3,66.0 41.8,67.0 41.2,68.5 42.0,70.8 43.0,71.7 46.5,72.4 49.1,74.0 50.6,76.0 50.8,78.5 50.1,80.0 48.5,81.4 46.5,82.3 41.5,83.4 39.0,85.5 36.3,89.5 33.7,98.5 -3.0,98.5 -3.0,-3.0ZM55.3,49.0 54.5,49.7 54.0,51.0 56.7,52.5 59.0,56.5 59.5,56.8 60.5,56.9 61.4,55.5 61.6,53.5 61.5,52.5 60.2,49.5 59.0,48.9 55.5,48.9Z" fill="#14c050" fill-rule="evenodd"/>
<path d="M-2.5,-3.0 99.9,-3.0 83.5,18.8 81.0,23.4 80.2,26.0 79.8,32.0 80.6,40.0 80.3,45.0 79.1,49.0 75.3,56.0 73.5,58.0 71.0,59.6 68.0,60.2 65.5,59.9 64.0,59.2 62.9,58.0 61.6,52.0 60.1,49.0 59.0,48.6 56.5,48.4 55.5,48.5 54.5,49.2 52.9,52.0 53.0,52.4 53.5,52.3 55.0,51.8 56.0,52.2 56.7,53.0 58.0,57.5 58.0,58.5 57.5,59.5 56.5,60.4 55.0,61.2 49.5,62.5 45.0,64.5 40.7,65.5 39.5,66.5 38.8,68.0 39.1,69.0 41.7,73.0 43.0,73.3 46.0,73.1 47.2,73.5 48.4,74.5 49.5,76.5 49.3,78.5 48.7,79.5 47.5,80.5 45.0,81.6 41.5,82.3 38.5,84.8 35.2,89.0 31.3,98.5 -3.0,98.5 -3.0,-3.0ZM63.7,48.5 63.3,49.0 63.5,49.5 64.0,49.6 64.6,49.0 64.4,48.5 64.0,48.4Z" fill="#14a82c" fill-rule="evenodd"/>
<path d="M-2.5,-3.0 91.4,-3.0 83.9,10.5 77.4,21.0 77.7,29.0 77.2,36.0 77.7,40.0 77.2,45.0 76.8,46.5 76.0,47.8 73.5,49.9 73.2,53.0 72.4,55.0 71.2,56.5 69.5,57.6 67.5,58.1 65.5,57.7 64.0,56.8 63.0,55.4 61.1,50.0 60.4,49.0 59.0,48.3 55.5,48.1 54.0,49.3 52.6,52.0 52.6,52.5 53.0,52.8 55.0,52.1 56.4,53.0 57.0,56.5 56.7,58.0 55.9,59.0 54.0,60.2 49.0,61.7 45.0,63.7 40.0,63.5 38.5,64.2 37.0,66.8 36.6,68.5 38.5,76.0 39.5,76.8 40.5,76.8 44.6,74.0 46.0,73.8 47.0,74.2 47.8,75.0 48.3,76.0 48.4,77.5 47.5,79.0 46.5,79.7 44.5,80.4 41.5,80.8 39.5,82.5 34.3,88.5 28.8,98.5 -3.0,98.5 -3.0,-3.0ZM63.8,48.0 63.0,49.0 63.2,49.5 64.0,49.9 64.9,49.5 65.3,48.5 64.9,48.0 64.0,47.9Z" fill="#6cc81e" fill-rule="evenodd"/>
<path d="M-2.5,-3.0 84.6,-3.0 75.7,20.0 75.5,21.5 76.0,29.0 75.5,35.5 75.6,39.5 75.0,45.0 74.7,46.0 74.0,46.7 71.5,47.0 70.1,48.0 69.8,49.0 70.7,52.0 70.3,54.0 69.5,55.1 68.0,56.1 66.5,56.3 65.0,55.9 63.5,54.8 62.6,53.5 61.4,50.0 60.8,49.0 59.0,48.1 55.5,47.8 54.5,48.2 53.8,49.0 52.2,52.5 52.5,53.1 53.0,53.2 55.0,52.3 56.1,53.0 56.4,54.0 56.4,56.0 56.0,57.1 55.0,58.3 53.0,59.3 48.0,61.1 45.5,62.5 44.0,62.6 39.5,61.8 38.5,61.9 37.5,62.5 36.6,64.0 35.6,67.5 35.5,71.5 37.1,76.0 39.2,79.0 39.3,80.5 37.6,83.5 33.1,88.5 25.9,98.5 -3.0,98.5 -3.0,-3.0ZM63.9,47.5 63.0,48.2 62.7,49.0 62.9,49.5 64.0,50.2 65.5,49.5 66.4,48.5 66.3,48.0 65.8,47.5 64.0,47.4ZM45.5,74.4 46.9,75.0 47.4,76.0 47.4,77.0 46.8,78.0 46.0,78.6 44.0,78.8 43.0,78.0 42.9,77.0 43.6,76.0 45.2,74.5Z" fill="#a8dc1e" fill-rule="evenodd"/>
<path d="M-2.5,-3.0 78.8,-3.0 74.2,19.0 74.0,21.5 74.5,29.0 73.9,39.0 72.9,44.5 72.5,45.2 68.0,46.2 64.5,46.7 63.0,47.7 62.3,49.0 62.6,49.5 64.0,50.4 66.5,49.8 68.0,50.2 68.9,52.0 68.5,53.5 67.5,54.5 66.5,54.8 64.5,54.5 63.0,53.3 61.7,49.5 61.2,49.0 59.0,47.8 55.1,47.5 53.7,48.5 51.9,52.5 52.0,53.2 52.5,53.7 53.0,53.7 55.0,52.6 55.8,53.0 56.1,54.0 55.9,55.5 55.5,56.4 54.5,57.3 45.5,60.9 44.0,61.0 39.0,60.2 37.5,60.4 36.3,61.0 35.3,63.0 34.3,68.5 34.3,70.5 35.3,75.0 37.8,79.5 37.7,81.5 36.0,84.3 32.1,88.0 22.5,98.5 -3.0,98.5 -3.0,-3.0ZM45.0,75.3 45.5,75.0 46.4,75.5 46.5,76.5 46.0,77.1 45.0,77.4 44.5,77.1 44.4,76.5 44.9,75.5Z" fill="#dcec10" fill-rule="evenodd"/>
<path d="M-2.5,-3.0 73.5,-3.0 72.5,18.5 73.0,28.0 72.6,37.0 72.2,39.5 71.3,42.0 69.5,43.7 64.0,46.2 62.0,48.6 61.5,48.8 59.5,47.7 56.5,47.1 55.0,47.1 54.0,47.6 53.2,48.5 52.7,50.5 51.5,53.0 51.7,54.0 52.5,54.5 53.0,54.4 54.5,53.0 55.0,52.8 55.5,53.1 55.8,54.0 55.6,55.0 54.5,56.1 52.5,56.7 49.5,58.1 45.5,59.2 43.5,59.2 37.5,58.5 35.5,58.6 34.4,59.0 33.8,60.0 33.5,61.0 33.9,66.0 33.2,68.5 33.2,70.0 34.1,75.5 36.7,79.5 36.9,80.5 36.6,82.0 35.0,84.3 18.1,98.5 -3.0,98.5 -3.0,-3.0ZM43.5,10.5 43.0,11.0 43.3,11.5 44.0,11.7 44.3,11.0 43.5,10.5ZM62.5,49.9 64.0,50.8 65.5,50.5 66.9,51.0 67.3,52.0 66.9,53.0 65.5,53.7 64.0,53.2 62.5,51.1 62.4,50.0Z" fill="#fff000" fill-rule="evenodd"/>
<path d="M-2.5,-3.0 68.2,-3.0 69.8,8.0 71.5,27.0 71.1,37.5 70.0,40.5 68.2,42.5 63.5,45.9 61.5,48.4 59.5,47.4 56.0,46.6 54.5,46.8 53.5,47.3 52.7,48.5 52.2,51.0 50.9,53.0 50.3,55.5 49.0,56.6 47.0,57.2 44.5,57.5 35.0,56.6 32.5,56.7 31.8,57.0 31.3,58.0 31.1,60.0 31.7,63.5 32.5,66.0 31.8,68.0 31.8,69.5 32.9,73.0 32.8,76.0 35.9,80.0 36.0,81.0 35.5,82.5 34.0,84.2 25.0,90.2 11.3,98.5 -3.0,98.5 -3.0,-3.0ZM41.9,10.0 41.5,10.5 41.6,11.0 43.3,12.0 44.5,11.9 44.8,11.0 44.5,10.0 43.5,9.6 42.0,10.0ZM8.4,35.5 8.0,36.0 8.2,37.0 9.0,37.6 9.6,37.5 10.0,37.0 9.7,36.0 9.2,35.5 8.5,35.4ZM64.0,51.5 65.0,51.1 65.5,51.2 65.8,52.0 65.0,52.5 64.5,52.4 63.9,51.5ZM54.5,53.5 55.0,53.3 55.3,54.0 55.0,54.8 54.5,55.0 54.1,54.5 54.5,53.5Z" fill="#ffd800" fill-rule="evenodd"/>
<path d="M-2.5,-3.0 62.1,-3.0 66.0,7.0 67.5,11.7 68.4,16.0 69.9,26.5 69.5,37.0 69.2,38.5 67.5,41.0 63.5,44.8 61.5,47.9 61.0,48.0 59.5,47.1 56.0,46.2 55.0,46.1 53.7,46.5 52.4,48.0 52.0,51.0 49.0,54.4 46.5,55.6 43.0,55.8 32.0,54.7 30.0,55.1 29.0,55.9 29.0,57.5 30.0,62.0 29.5,64.5 30.2,69.5 31.6,71.5 32.1,73.0 31.6,76.5 34.9,80.5 34.9,82.0 34.3,83.0 33.0,83.9 18.5,90.9 -2.6,98.5 -3.0,98.5 -3.0,-3.0ZM42.0,9.0 40.9,10.0 41.0,11.1 43.0,12.3 44.0,12.4 44.9,12.0 45.4,10.0 45.0,9.0 44.0,8.6 42.0,9.0ZM8.1,34.5 6.7,36.0 6.4,37.5 7.5,39.3 8.5,39.9 9.0,39.9 10.5,38.7 11.1,37.5 11.1,36.5 10.5,34.8 9.5,34.3 8.5,34.3ZM13.0,50.0 12.6,50.5 12.8,51.0 13.5,51.1 14.0,50.0 13.0,50.0ZM18.2,54.0 18.0,54.5 18.5,55.1 19.5,55.1 20.2,54.5 20.3,54.0 20.0,53.6 19.5,53.5 18.5,53.9Z" fill="#ffbe00" fill-rule="evenodd"/>
<path d="M-2.5,-3.0 53.6,-3.0 54.9,0.0 61.0,6.4 63.0,9.1 64.9,12.5 66.6,17.5 68.0,27.0 67.4,38.0 63.0,44.1 61.5,47.0 61.0,47.4 60.0,46.8 55.5,45.6 53.5,45.8 52.5,46.5 51.9,47.5 51.5,51.0 48.0,53.3 45.5,54.0 37.5,53.9 30.5,52.9 26.5,51.8 25.5,51.9 24.5,52.5 24.1,53.5 24.5,55.0 25.5,56.6 28.0,59.2 28.8,61.0 28.9,62.5 28.0,64.5 28.8,68.5 29.3,70.0 31.3,72.5 31.5,74.0 30.9,76.0 30.9,77.0 31.5,78.4 34.0,81.0 34.1,82.0 33.7,82.5 23.0,86.5 17.0,88.2 10.0,89.4 -3.0,90.7 -3.0,-3.0ZM43.8,6.5 41.0,8.7 40.4,10.5 40.8,11.5 41.5,12.0 42.5,12.6 44.0,12.8 45.0,12.5 45.4,12.0 46.6,9.5 46.8,8.0 46.5,7.0 46.0,6.4 45.0,6.2 44.0,6.4ZM8.3,33.5 5.7,35.5 4.6,37.0 4.7,38.5 5.5,39.6 5.7,40.5 5.5,41.2 3.6,43.5 2.8,46.5 2.6,50.0 3.3,53.0 4.2,54.5 5.5,55.8 7.0,56.8 9.0,57.5 14.0,58.0 17.0,57.7 19.0,57.1 20.5,55.9 21.2,54.5 21.2,53.5 20.5,53.0 17.4,52.0 16.7,51.0 16.0,48.7 15.0,47.1 11.0,43.5 10.7,41.5 11.9,37.0 12.0,35.0 11.5,34.0 10.5,33.3 9.5,33.1 8.5,33.4Z" fill="#ffa000" fill-rule="evenodd"/>
<path d="M-2.5,-3.0 45.0,-3.0 43.8,1.5 40.1,9.0 40.0,10.5 40.5,11.6 42.5,13.0 45.0,13.1 49.0,9.2 50.5,8.2 52.5,7.6 54.5,7.7 57.4,9.0 60.0,11.2 63.0,14.9 64.5,17.8 66.0,26.0 65.4,36.0 64.7,38.5 61.0,45.7 60.5,46.1 58.5,46.1 55.0,44.8 53.0,45.1 51.8,46.0 51.1,47.0 50.8,48.5 50.9,50.5 46.5,52.1 38.0,52.4 31.5,51.4 28.0,50.1 26.0,49.7 24.5,50.0 23.0,51.6 22.0,52.2 20.0,52.2 18.5,51.5 17.7,50.5 16.9,46.5 16.0,44.7 14.9,43.5 12.5,42.0 12.4,38.5 13.0,36.0 13.1,34.5 12.0,32.8 10.0,31.7 9.0,31.9 6.0,34.3 3.8,35.5 0.2,40.0 -3.0,45.5 -3.0,-3.0ZM19.4,14.5 18.8,15.0 18.7,15.5 18.9,16.0 19.5,16.3 20.5,15.5 20.5,15.0 20.0,14.5 19.5,14.5ZM22.5,54.2 23.0,54.4 23.3,55.0 23.4,57.0 23.9,58.0 27.0,59.8 28.1,61.5 28.2,62.5 27.2,65.5 27.4,68.0 28.2,70.0 30.5,72.4 31.0,73.5 30.0,77.0 30.6,80.5 30.1,81.5 27.0,82.9 23.0,84.0 19.0,84.6 15.0,84.7 7.5,83.6 -3.0,80.3 -3.0,61.7 -0.5,63.3 2.0,63.9 5.5,63.8 10.5,62.7 16.5,60.6 20.5,58.5 21.8,57.0 21.8,55.5 22.2,54.5Z" fill="#ff8000" fill-rule="evenodd"/>
<path d="M-2.5,-3.0 40.1,-3.0 40.3,2.5 39.5,10.0 39.7,11.0 40.5,12.0 42.5,13.5 44.5,13.8 46.0,13.4 50.0,11.1 51.5,10.9 53.0,11.2 56.5,13.2 58.5,15.0 58.8,16.0 57.7,18.0 58.0,19.1 59.0,19.4 61.0,19.1 61.5,19.6 63.0,23.9 63.5,26.5 62.2,37.0 61.3,41.5 60.2,44.5 59.7,45.0 58.5,45.5 55.0,43.8 52.5,44.0 50.5,45.5 48.8,49.0 47.0,49.9 39.0,50.2 32.5,49.8 28.0,47.9 25.5,47.6 24.5,47.8 23.6,48.5 22.0,51.1 21.0,51.6 20.0,51.6 19.0,50.9 18.5,49.5 18.7,48.0 19.6,46.0 19.4,45.0 17.8,43.0 14.0,39.3 13.6,38.0 14.3,36.0 14.1,34.0 12.0,30.8 11.0,29.9 10.0,29.6 8.5,30.0 7.4,32.0 6.0,33.5 2.9,35.0 -3.0,39.4 -3.0,-3.0ZM19.5,14.0 18.4,14.5 17.9,15.5 18.3,16.5 19.0,16.9 20.0,16.8 21.0,15.5 20.5,14.2 19.5,14.0ZM23.5,60.0 26.0,60.4 27.5,61.8 27.6,63.0 26.1,66.0 26.0,68.0 26.2,69.0 27.3,70.5 30.2,73.0 30.4,74.5 28.0,79.2 26.0,80.6 23.5,81.2 21.0,81.3 16.0,80.4 13.0,78.8 10.7,76.5 9.8,74.0 10.0,71.5 11.4,69.0 14.4,66.0 20.8,61.0 23.4,60.0Z" fill="#ff5a00" fill-rule="evenodd"/>
<path d="M-2.5,-3.0 35.6,-3.0 38.2,3.5 38.8,6.5 39.2,10.5 39.6,11.5 42.0,13.9 43.5,14.5 46.0,14.4 50.0,12.9 51.0,13.1 54.7,18.5 56.1,21.0 59.0,24.1 59.4,27.0 58.2,34.0 58.7,39.0 58.5,41.0 58.2,42.0 57.5,42.3 54.5,41.9 52.0,42.1 50.0,43.1 46.0,46.2 43.5,46.9 41.0,47.2 33.5,47.0 24.0,44.1 21.5,42.5 17.0,38.0 15.7,34.0 14.1,31.5 12.5,26.7 12.0,25.9 11.5,25.8 9.5,26.9 8.0,28.3 7.3,29.5 6.5,32.0 5.5,33.1 -3.0,36.5 -3.0,-3.0ZM19.5,13.5 18.0,14.0 17.1,15.0 17.1,16.5 17.5,17.1 18.5,17.7 20.0,17.5 21.4,16.0 21.4,14.5 21.0,13.9 20.0,13.4ZM20.5,48.5 21.5,48.9 21.7,49.5 21.5,50.5 20.5,51.0 19.6,50.5 19.5,50.0 19.8,49.0 20.5,48.5ZM25.0,61.5 26.5,61.7 27.0,62.3 27.1,63.0 26.5,63.8 23.8,66.0 23.2,67.0 23.3,68.5 24.7,70.5 26.1,71.5 29.4,73.0 29.9,74.0 29.5,75.0 27.0,77.1 25.5,77.8 23.5,77.9 21.0,77.2 19.2,76.0 18.0,74.0 17.8,72.0 18.5,69.7 20.7,66.5 22.6,63.0 23.6,62.0 24.8,61.5Z" fill="#ff2a00" fill-rule="evenodd"/>
<path d="M-2.5,-3.0 28.8,-3.0 33.0,0.5 36.0,3.9 38.0,7.2 38.8,11.0 41.5,14.3 42.5,15.0 44.0,15.5 49.0,15.8 50.7,17.5 52.4,21.0 53.5,25.5 53.1,32.0 51.8,35.5 48.5,39.0 46.7,40.5 44.0,42.0 41.0,43.0 37.5,43.4 34.5,43.3 30.5,42.4 26.2,41.0 23.5,39.6 21.1,37.5 17.1,32.0 16.3,29.5 15.4,23.5 14.5,21.0 14.0,20.6 10.8,21.5 8.5,23.6 6.8,27.0 6.0,31.5 5.4,32.5 2.5,33.5 -3.0,34.1 -3.0,-3.0ZM19.2,13.0 16.5,13.3 16.0,13.8 16.2,17.5 17.3,18.5 19.0,18.7 20.0,18.5 21.0,17.8 21.9,16.5 22.1,15.0 21.5,13.6 20.5,12.8 19.5,12.8Z" fill="#e8001e" fill-rule="evenodd"/>
<path d="M-2.5,-3.0 2.3,-3.0 9.2,7.5 14.0,13.7 14.8,15.5 14.7,17.0 14.0,17.8 8.5,19.0 7.0,20.0 6.1,21.0 5.2,23.0 4.9,25.0 5.2,31.5 5.0,32.0 3.5,32.6 1.0,32.6 -3.0,31.6 -3.0,-3.0ZM24.5,3.5 27.0,3.2 29.5,3.6 32.5,4.7 35.5,6.3 37.5,8.1 38.0,9.0 38.5,11.5 39.9,13.0 41.5,15.5 43.5,16.8 46.4,17.5 47.9,19.5 48.6,22.0 48.8,24.5 48.3,27.5 47.3,30.5 46.2,32.5 44.5,34.5 42.5,36.2 40.0,37.5 37.0,38.4 33.5,38.7 31.5,38.4 28.0,37.3 25.5,36.0 23.5,34.5 21.0,31.5 19.5,29.0 19.0,27.5 17.9,21.0 18.2,20.5 20.0,19.8 22.0,18.3 22.8,17.0 23.0,16.0 21.8,12.5 20.0,10.5 20.1,8.5 20.6,7.0 22.0,5.1 24.5,3.5Z" fill="#b8064a" fill-rule="evenodd"/>
<path d="M33.0,8.4 35.5,8.5 37.0,9.3 37.7,12.0 39.4,14.0 42.6,20.0 43.0,23.0 42.7,25.0 42.0,26.5 39.3,30.0 37.5,31.3 35.5,32.2 32.0,32.8 30.4,32.5 28.3,31.5 24.5,28.1 22.5,24.9 21.7,23.0 21.5,21.5 21.8,20.5 23.5,19.0 24.3,17.5 24.4,15.5 23.5,13.9 23.4,13.0 24.5,10.4 26.0,9.2 27.5,8.7 32.7,8.5ZM12.5,15.4 13.4,15.5 13.5,16.2 13.0,16.3 12.5,16.1 12.4,15.5ZM0.0,27.4 1.0,27.3 3.0,28.8 4.0,30.5 3.7,31.5 2.5,31.6 0.9,30.5 0.0,29.0 -0.1,27.5Z" fill="#7a0a7e" fill-rule="evenodd"/>
<path d="M34.5,13.5 36.0,14.3 36.9,16.0 36.8,17.5 35.5,22.0 35.0,23.0 33.0,25.0 31.5,25.7 30.5,25.6 29.0,24.8 27.4,23.0 26.8,21.5 26.9,20.0 27.5,18.5 28.5,17.3 34.1,13.5Z" fill="#4b0c9a" fill-rule="evenodd"/>
</g>
<g clip-path="url(#nm)"><rect x="-3" y="-3" width="117" height="101" fill="#0a14f5"/>
<path d="M-2.5,-3.0 113.5,-3.0 113.5,98.5 -3.0,98.5 -3.0,-3.0Z" fill="#0050f5" fill-rule="evenodd"/>
<path d="M-2.5,-3.0 113.5,-3.0 113.5,98.5 -3.0,98.5 -3.0,-3.0Z" fill="#0096f8" fill-rule="evenodd"/>
<path d="M-2.5,-3.0 113.5,-3.0 113.5,98.5 -3.0,98.5 -3.0,-3.0ZM95.0,32.5 94.3,33.5 94.5,34.6 95.5,35.3 96.5,35.1 97.2,34.0 97.2,33.0 96.5,32.3 95.0,32.5Z" fill="#00d2f5" fill-rule="evenodd"/>
<path d="M-2.5,-3.0 113.5,-3.0 113.5,98.5 -3.0,98.5 -3.0,-3.0ZM89.6,20.5 88.2,21.5 87.9,22.5 90.1,28.5 90.1,35.0 90.7,38.0 91.6,40.0 93.0,41.7 94.5,42.5 96.5,42.6 98.3,41.5 99.4,39.5 99.9,37.0 99.6,34.5 98.4,32.0 96.1,29.5 95.6,28.5 95.4,27.0 95.6,23.5 95.3,22.5 94.0,21.3 92.5,20.3 91.5,20.1 90.0,20.4Z" fill="#00e6c8" fill-rule="evenodd"/>
<path d="M-2.5,-3.0 113.5,-3.0 113.5,98.5 -3.0,98.5 -3.0,-3.0ZM89.4,19.0 88.0,20.1 87.1,22.0 87.7,28.5 86.6,37.0 86.4,41.0 86.6,44.5 87.2,48.0 89.5,53.9 92.5,58.0 94.0,59.2 96.0,60.4 98.0,60.8 100.0,60.7 102.0,59.8 103.5,58.5 104.8,56.5 105.6,54.5 106.2,52.0 106.5,49.0 106.3,46.0 105.7,42.5 104.5,39.0 103.1,36.0 97.8,28.5 97.0,23.5 96.0,21.4 94.5,19.7 93.0,18.8 91.0,18.5 89.5,18.9Z" fill="#00d68c" fill-rule="evenodd"/>
<path d="M-2.5,-3.0 113.5,-3.0 113.5,41.8 106.9,35.0 99.9,29.5 99.1,28.0 98.9,25.0 98.5,23.5 96.5,20.0 95.0,18.3 93.0,17.1 90.5,16.9 88.5,17.9 86.9,20.0 86.5,21.5 86.4,26.0 86.0,28.5 80.4,45.5 78.8,52.5 77.5,60.5 76.6,69.5 76.2,78.5 76.2,88.0 76.6,98.5 -3.0,98.5 -3.0,-3.0Z" fill="#14c050" fill-rule="evenodd"/>
<path d="M-2.5,-3.0 113.5,-3.0 113.5,33.7 106.5,30.3 101.0,28.6 100.5,27.5 101.6,24.5 98.8,21.5 96.0,17.0 94.5,15.7 92.5,14.9 90.5,15.0 89.0,15.6 87.5,16.9 86.5,18.6 85.4,25.5 83.5,30.1 71.7,48.5 64.1,61.0 53.3,80.0 43.4,98.5 -3.0,98.5 -3.0,-3.0Z" fill="#14a82c" fill-rule="evenodd"/>
<path d="M-2.5,-3.0 113.5,-3.0 113.5,27.8 107.0,25.5 100.8,21.5 99.5,20.0 97.2,15.5 95.0,13.4 93.5,12.6 91.5,12.4 90.0,12.6 88.5,13.3 87.0,14.7 86.0,16.5 85.5,18.5 85.2,23.0 84.0,26.1 81.5,29.5 77.5,33.6 2.4,98.5 -3.0,98.5 -3.0,-3.0Z" fill="#6cc81e" fill-rule="evenodd"/>
<path d="M-2.5,-3.0 113.5,-3.0 113.5,22.3 106.5,21.3 104.5,21.7 103.0,21.2 101.2,19.5 98.8,13.5 96.5,10.6 95.0,9.6 93.0,8.9 91.0,8.9 89.5,9.2 87.0,10.6 85.8,12.0 85.0,13.5 84.4,16.5 84.8,21.5 84.0,24.1 81.5,27.0 77.5,29.7 69.5,33.8 55.0,40.2 -3.0,64.2 -3.0,-3.0Z" fill="#a8dc1e" fill-rule="evenodd"/>
<path d="M-2.5,-3.0 113.5,-3.0 113.5,16.3 105.0,20.3 103.5,20.0 102.7,19.0 102.5,18.0 102.3,13.0 101.9,10.5 100.1,7.0 98.5,5.3 96.0,3.8 93.5,3.1 90.5,3.1 88.0,3.8 86.0,4.9 84.3,6.5 82.9,8.5 82.0,11.0 81.8,14.0 82.3,16.5 84.0,20.1 84.2,22.0 83.5,23.4 82.5,24.4 79.0,26.1 72.5,27.5 61.0,28.8 -3.0,33.8 -3.0,-3.0Z" fill="#dcec10" fill-rule="evenodd"/>
<path d="M-2.5,-3.0 78.7,-3.0 76.3,0.5 74.8,4.0 74.0,8.0 74.2,11.5 75.2,14.5 76.9,17.0 80.0,19.4 82.0,19.6 83.0,20.1 83.6,21.0 83.5,22.0 83.0,22.7 82.0,23.3 80.5,23.4 79.0,23.1 70.5,19.4 61.0,16.3 -3.0,-0.9 -3.0,-3.0Z" fill="#fff000" fill-rule="evenodd"/>
</g>

</g>
<path d="M112.46,16.07 L112.72,17.51 L111.40,18.19 L111.71,20.54 L109.03,19.86 L104.13,22.47 L104.28,24.64 L102.17,27.82 L101.98,29.64 L100.32,32.78 L97.38,31.91 L97.23,35.85 L96.36,37.14 L96.78,38.73 L94.89,39.64 L92.93,33.62 L91.87,33.66 L91.27,36.04 L89.20,34.11 L90.37,31.95 L92.06,31.72 L93.80,28.50 L91.61,27.86 L88.10,27.93 L84.52,27.40 L84.18,24.75 L82.41,24.60 L79.40,22.93 L78.08,25.51 L80.79,27.52 L78.45,28.92 L77.59,30.32 L79.92,31.34 L79.28,33.62 L80.60,36.46 L81.17,39.57 L80.64,40.97 L78.08,40.93 L73.44,41.69 L73.63,44.57 L71.63,46.81 L66.20,49.35 L61.98,53.82 L59.15,56.21 L55.38,58.67 L55.38,60.41 L53.50,61.36 L50.10,62.72 L48.33,62.91 L47.24,65.79 L47.99,70.72 L48.22,73.87 L46.60,77.47 L46.60,83.91 L44.64,84.10 L42.94,86.98 L44.07,88.23 L40.64,89.33 L39.36,91.91 L37.85,92.97 L34.27,89.44 L32.54,84.14 L31.10,80.31 L29.78,78.53 L27.75,74.89 L26.84,70.15 L26.16,67.77 L22.73,62.57 L21.19,55.22 L20.06,50.37 L20.06,45.78 L20.36,43.21 L19.04,40.93 L19.23,38.85 L17.72,40.55 L17.34,42.45 L13.87,44.49 L11.20,44.04 L8.29,41.69 L5.66,38.85 L6.79,38.09 L9.43,37.71 L11.12,36.19 L8.67,36.57 L6.41,36.57 L4.15,35.25 L2.56,33.39 L5.05,30.85 L13.35,30.85 L12.59,27.59 L10.48,25.70 L10.07,22.78 L7.35,21.60 L8.90,17.21 L12.82,15.54 L16.70,13.27 L19.79,9.47 L22.62,6.82 L24.50,4.70 L26.77,2.27 L29.26,0.87 L26.20,-0.99 L24.88,-3.56 L23.56,-6.90 L25.41,-8.53 L31.14,-7.58 L35.32,-8.15 L38.98,-11.33 L43.02,-6.90 L42.64,-3.83 L44.15,-1.86 L44.03,0.08 L41.32,-0.45 L42.37,3.71 L46.07,6.14 L51.31,8.79 L48.93,10.50 L47.46,14.06 L51.12,15.46 L54.63,17.32 L59.57,19.48 L64.77,19.97 L66.92,21.87 L69.82,22.25 L74.38,23.12 L77.51,23.08 L77.93,21.57 L77.44,19.14 L77.74,17.51 L80.04,16.71 L80.34,19.71 L80.45,18.50 L83.84,18.65 L86.22,18.57 L89.42,18.65 L92.48,18.57 L92.74,18.00 L91.23,17.43 L94.25,17.43 L97.68,14.63 L102.05,12.20 L105.18,13.15 L107.90,11.56 L109.67,13.91 L108.39,15.50 L112.46,16.07Z M77.74,17.51 L77.44,19.14 L77.93,21.57 L77.51,23.08 L74.38,23.12 L69.82,22.25 L66.92,21.87 L64.77,19.97 L59.57,19.48 L54.63,17.32 L51.12,15.46 L47.46,14.06 L48.93,10.50 L51.31,8.79 L52.89,7.88 L55.91,9.02 L59.72,11.52 L61.83,12.05 L63.07,13.87 L66.01,14.63 L69.07,16.30 L73.33,17.17 L77.74,17.51Z M91.23,17.43 L92.74,18.00 L92.48,18.57 L89.42,18.65 L86.22,18.57 L83.84,18.65 L80.45,18.50 L80.34,17.81 L82.86,16.30 L84.90,15.73 L87.58,16.49 L89.58,16.68 L91.23,17.43Z M94.89,39.64 L94.82,42.37 L93.50,41.77 L93.76,44.84 L92.67,42.86 L92.48,40.93 L91.72,39.11 L90.18,36.88 L86.71,36.73 L87.05,38.32 L85.84,40.40 L84.26,39.64 L83.69,40.33 L82.64,39.91 L81.17,39.57 L80.60,36.46 L79.28,33.62 L79.92,31.34 L77.59,30.32 L78.45,28.92 L80.79,27.52 L78.08,25.51 L79.40,22.93 L82.41,24.60 L84.18,24.75 L84.52,27.40 L88.10,27.93 L91.61,27.86 L93.80,28.50 L92.06,31.72 L90.37,31.95 L89.20,34.11 L91.27,36.04 L91.87,33.66 L92.93,33.62 L94.89,39.64Z M53.87,94.67 L53.31,98.62 L51.72,99.68 L48.44,100.55 L46.63,97.55 L45.99,92.10 L47.69,85.96 L50.29,88.04 L52.03,90.73 L53.87,94.67Z M93.76,44.84 L95.76,46.62 L98.40,48.89 L100.28,51.54 L101.41,54.95 L101.98,57.99 L101.04,61.40 L102.54,62.72 L104.81,63.48 L107.07,62.16 L109.71,60.26 M2.56,33.39 L-0.23,32.44 L-1.13,30.32 M-0.75,3.79 L1.51,3.03 L3.77,2.46 L6.03,1.90 L6.97,-0.38" fill="none" stroke="#2a2a2a" stroke-width="0.75" stroke-linejoin="round"/>
</g>
<rect x="0" y="0" width="110.2" height="94.8" fill="none" stroke="#333" stroke-width="1.3"/>
<path d="M0,92.86 h-1.6 M0,85.28 h-3.2 M0,77.70 h-1.6 M0,70.11 h-1.6 M0,62.54 h-1.6 M0,54.95 h-1.6 M0,47.38 h-3.2 M0,39.80 h-1.6 M0,32.22 h-1.6 M0,24.64 h-1.6 M0,17.05 h-1.6 M0,9.47 h-3.2 M0,1.90 h-1.6 M1.89,94.8 v1.6 M9.43,94.8 v3.2 M16.96,94.8 v1.6 M24.50,94.8 v1.6 M32.05,94.8 v1.6 M39.59,94.8 v1.6 M47.12,94.8 v3.2 M54.66,94.8 v1.6 M62.20,94.8 v1.6 M69.75,94.8 v1.6 M77.28,94.8 v1.6 M84.83,94.8 v3.2 M92.36,94.8 v1.6 M99.91,94.8 v1.6 M107.45,94.8 v1.6" stroke="#333" stroke-width="0.9"/>
<text x="-6.6" y="13.47" font-size="10.2" text-anchor="end" fill="#1a1a1a">30N</text>
<text x="-6.6" y="51.38" font-size="10.2" text-anchor="end" fill="#1a1a1a">20N</text>
<text x="-6.6" y="89.28" font-size="10.2" text-anchor="end" fill="#1a1a1a">10N</text>
<text x="103.0" y="87.1" font-size="17" fill="#000" text-anchor="end" style="stroke-width:0.15px">e</text>
</g>
<g transform="translate(287.2 209.9) scale(1.0000 0.9958)">
<g clip-path="url(#fr)">
<g clip-path="url(#mask)">
<g clip-path="url(#mm)"><rect x="-3" y="-3" width="117" height="101" fill="#0a14f5"/>
<path d="M-2.5,-3.0 113.5,-3.0 113.5,98.5 21.5,98.5 30.5,88.0 30.9,86.5 30.6,83.0 27.7,78.0 26.9,74.0 25.2,71.5 24.6,70.0 24.1,66.5 21.8,62.5 21.4,59.0 19.7,55.0 19.3,51.5 12.4,46.5 8.5,42.9 2.0,40.9 -3.0,38.6 -3.0,-3.0Z" fill="#0050f5" fill-rule="evenodd"/>
<path d="M-2.5,-3.0 113.5,-3.0 113.5,98.5 24.3,98.5 27.5,94.0 32.5,88.0 32.6,87.0 31.7,82.0 28.5,77.5 27.6,73.5 25.6,70.0 25.0,66.3 22.8,62.5 22.2,58.5 20.8,55.0 21.0,51.5 20.5,50.5 13.0,43.7 10.5,39.4 9.5,39.1 6.5,38.9 3.5,37.9 0.5,36.0 -3.0,32.9 -3.0,-3.0ZM14.7,22.0 14.4,22.5 14.5,23.1 15.0,23.6 15.9,23.5 16.2,22.5 15.5,21.9 15.0,21.9Z" fill="#0096f8" fill-rule="evenodd"/>
<path d="M-2.5,-3.0 113.5,-3.0 113.5,98.5 26.5,98.5 30.0,93.0 34.1,88.0 32.8,84.5 32.5,81.5 29.4,77.5 28.2,73.5 26.3,70.0 25.5,66.0 23.3,61.5 22.8,58.5 21.6,55.0 21.5,51.0 20.5,48.7 15.4,43.0 12.4,38.0 11.0,37.2 7.5,36.5 5.5,35.6 3.3,33.5 1.9,31.0 -0.2,22.5 -1.4,20.5 -3.0,18.8 -3.0,-3.0ZM10.9,18.5 9.5,19.5 8.8,20.5 8.6,21.5 9.1,23.0 10.5,24.5 13.0,25.9 14.5,26.1 16.0,25.6 17.0,24.5 17.6,23.0 17.6,21.5 17.0,20.0 16.0,19.0 14.5,18.3 12.5,18.0 11.0,18.4Z" fill="#00d2f5" fill-rule="evenodd"/>
<path d="M-2.5,-3.0 113.5,-3.0 113.5,98.5 28.4,98.5 31.3,93.0 35.0,88.0 33.7,85.0 33.0,81.2 29.7,76.5 28.5,73.0 26.7,69.0 25.9,65.5 23.8,61.0 22.3,54.5 22.0,50.4 21.3,47.5 20.2,45.5 17.8,42.5 16.1,37.0 13.8,32.5 14.1,31.5 16.5,29.2 18.0,27.1 18.5,24.0 20.1,20.5 20.0,19.0 18.5,16.0 17.0,14.7 15.0,14.1 10.5,13.8 6.9,12.5 2.5,10.1 -3.0,6.0 -3.0,-3.0ZM8.0,30.4 9.0,30.5 10.2,31.5 10.0,32.5 9.0,33.1 8.5,33.2 8.0,32.9 7.5,31.0 7.7,30.5Z" fill="#00e6c8" fill-rule="evenodd"/>
<path d="M0.5,-3.0 113.5,-3.0 113.5,98.5 30.0,98.5 32.4,93.0 35.2,88.5 35.3,87.5 34.1,84.5 33.4,81.0 29.9,75.5 27.2,68.5 26.1,64.5 24.0,59.5 22.6,52.0 22.7,47.0 22.4,42.5 22.7,41.5 23.4,40.5 27.5,37.5 29.8,34.0 32.6,31.0 33.6,29.5 34.7,27.0 35.1,25.0 34.9,18.5 34.2,17.0 32.5,15.0 27.5,12.2 24.0,7.7 18.0,6.3 13.0,6.1 10.5,5.4 8.0,4.1 5.1,2.0 1.8,-1.0 0.0,-3.0ZM42.8,34.0 41.8,35.5 41.7,37.5 43.0,42.0 43.5,42.8 44.5,43.1 45.5,42.5 46.7,40.5 47.4,38.5 47.4,37.0 46.8,35.5 45.5,34.2 44.0,33.7 43.0,33.9Z" fill="#00d68c" fill-rule="evenodd"/>
<path d="M10.0,-3.0 113.5,-3.0 113.5,98.5 31.5,98.5 33.1,93.5 35.5,88.6 35.6,87.5 33.7,80.5 30.0,74.5 27.4,67.5 26.5,63.9 24.5,59.2 23.2,52.0 23.5,49.7 25.0,46.0 26.5,44.2 28.5,43.1 31.5,42.3 34.0,40.2 35.5,39.4 36.5,39.4 38.0,40.3 39.0,41.5 40.5,44.5 42.0,46.1 44.5,46.8 47.0,46.3 49.0,44.8 52.0,40.5 53.0,38.0 53.1,36.0 51.5,33.5 43.5,26.3 40.5,24.3 39.5,23.1 38.6,21.0 38.3,17.5 36.9,14.0 36.1,9.5 35.1,8.0 34.5,7.7 33.5,8.0 32.3,9.5 31.0,10.3 30.0,10.5 28.5,10.3 27.0,9.4 24.0,6.4 13.8,0.5 11.3,-1.5 9.9,-3.0Z" fill="#14c050" fill-rule="evenodd"/>
<path d="M17.0,-3.0 113.5,-3.0 113.5,98.5 32.8,98.5 33.9,94.0 35.8,88.5 35.7,86.5 34.0,79.7 30.6,74.5 29.6,71.0 27.8,67.0 26.9,63.0 25.1,59.0 24.7,55.5 23.8,52.0 23.9,51.0 24.5,49.8 26.0,48.0 27.5,47.0 29.0,46.6 31.0,46.6 34.5,47.3 39.5,50.1 42.0,50.6 44.5,50.7 47.0,50.3 49.0,49.6 50.5,48.7 52.2,47.0 54.3,43.5 58.5,38.0 59.2,36.5 59.4,35.5 59.0,34.0 56.9,30.0 56.9,29.0 58.1,25.5 58.1,24.0 57.8,23.0 57.0,22.2 55.5,22.0 54.5,22.7 52.0,25.4 50.0,25.8 47.5,25.1 42.0,22.2 40.8,21.0 40.1,19.5 38.9,14.5 38.5,9.5 37.5,7.4 36.1,6.5 34.5,6.4 33.5,6.7 30.5,8.9 29.0,9.0 28.0,8.6 26.5,7.5 21.0,2.0 16.8,-3.0Z" fill="#14a82c" fill-rule="evenodd"/>
<path d="M21.5,-3.0 113.5,-3.0 113.5,98.5 34.1,98.5 34.8,93.5 36.0,88.5 35.9,85.5 34.3,79.0 31.1,74.0 30.1,70.5 28.3,66.5 27.7,63.0 25.9,59.0 25.6,55.5 24.7,52.5 25.0,51.0 26.0,49.9 27.0,49.4 28.5,49.1 30.0,49.5 32.5,51.0 33.7,52.5 35.0,55.0 35.5,55.5 36.5,55.8 41.0,54.4 47.5,53.6 50.0,52.9 51.5,52.0 54.1,49.0 55.8,45.0 57.5,42.7 59.0,41.4 62.5,39.5 63.5,38.5 64.3,37.0 64.4,35.5 60.9,23.0 58.4,17.5 57.5,16.3 56.0,15.9 54.6,16.5 51.3,21.0 49.5,22.4 47.0,22.6 43.5,21.4 41.9,20.0 40.8,17.5 40.4,14.0 40.8,8.5 40.5,7.0 39.9,6.0 38.0,4.7 36.0,4.6 34.0,5.2 30.5,7.7 29.5,7.9 28.0,7.5 26.2,6.0 24.4,3.5 22.5,0.0 21.2,-3.0Z" fill="#6cc81e" fill-rule="evenodd"/>
<path d="M25.0,-3.0 113.5,-3.0 113.5,98.5 35.3,98.5 36.3,85.0 34.9,78.5 34.0,77.0 32.0,74.5 30.8,70.0 29.0,66.5 28.5,62.5 26.7,59.0 26.8,55.5 25.8,52.5 26.0,51.5 27.5,51.1 29.0,51.7 30.6,53.0 33.7,56.5 35.0,57.3 36.5,57.7 47.0,56.5 52.5,55.3 53.4,54.5 54.4,51.5 56.1,49.0 56.9,46.0 58.0,44.2 60.0,42.8 63.0,42.3 65.0,41.5 67.9,39.0 69.5,37.1 70.0,37.1 73.8,41.5 75.0,42.4 76.5,42.5 78.5,42.1 81.2,40.5 84.2,37.0 87.0,32.0 88.4,27.5 88.6,23.0 87.5,19.2 86.5,17.7 85.2,16.5 83.5,15.6 82.0,15.4 80.5,15.5 79.0,16.1 77.0,17.9 76.0,20.0 75.0,24.5 74.8,29.5 74.5,30.5 72.0,33.4 70.0,34.7 67.4,31.5 65.8,25.5 61.8,18.5 61.5,17.0 62.0,14.5 61.8,13.5 60.0,11.6 57.0,10.7 55.5,7.5 54.2,6.0 52.0,4.8 48.0,3.7 43.5,1.2 40.0,0.6 38.0,0.9 36.0,1.8 34.0,3.2 30.8,6.5 29.5,7.0 28.5,6.8 26.9,5.5 25.9,3.5 25.2,0.5 24.9,-3.0ZM46.0,7.9 47.0,7.8 48.0,8.7 49.4,11.5 50.9,13.5 51.3,15.0 51.0,16.5 49.6,19.5 48.5,20.5 47.0,20.9 45.0,20.7 43.0,19.5 42.0,18.0 41.6,16.0 41.7,14.0 42.5,11.7 44.0,9.4 45.8,8.0Z" fill="#a8dc1e" fill-rule="evenodd"/>
<path d="M95.0,-3.0 113.5,-3.0 113.5,98.5 36.5,98.5 36.2,92.0 36.8,85.0 35.9,81.0 35.7,78.5 35.0,76.8 32.4,74.0 31.8,70.0 29.8,66.5 29.9,62.0 29.4,60.5 28.2,59.0 28.3,58.0 29.0,57.3 30.0,57.3 34.0,59.4 37.5,60.0 42.0,59.1 46.5,59.3 50.0,58.1 53.0,57.5 55.0,56.4 55.3,55.5 55.4,52.5 57.1,49.0 57.8,46.5 58.7,45.0 60.0,44.1 62.0,43.6 65.0,43.8 66.0,44.2 67.8,46.0 69.0,46.6 78.0,45.8 81.5,45.0 84.9,43.5 88.2,41.5 91.3,39.0 95.4,34.5 98.6,29.5 100.7,24.0 101.7,18.5 101.6,13.0 100.4,7.5 98.3,2.5 94.9,-3.0ZM29.5,-1.2 30.5,-1.5 31.5,-1.0 31.9,0.0 32.0,1.5 31.6,3.5 30.9,5.0 30.0,5.9 29.0,6.1 27.6,5.0 27.3,3.0 28.0,0.4 29.3,-1.0ZM45.5,11.9 47.0,12.1 48.0,12.7 49.0,13.9 49.4,15.0 49.4,16.5 48.8,18.0 48.0,19.0 47.0,19.5 46.0,19.6 44.5,19.2 43.5,18.4 42.8,17.0 42.7,15.5 43.1,14.0 44.0,12.7 45.1,12.0ZM69.0,15.4 70.5,15.1 71.3,15.5 71.9,16.5 72.2,18.0 72.0,19.4 71.0,20.4 69.0,20.4 67.6,19.0 67.4,18.0 67.7,17.0 68.8,15.5Z" fill="#dcec10" fill-rule="evenodd"/>
<path d="M29.0,4.2 29.4,4.5 29.0,4.8 28.9,4.5ZM45.5,13.8 47.0,13.9 47.7,14.5 48.2,15.5 48.1,17.0 47.0,18.2 45.5,18.4 44.5,18.0 44.0,17.3 43.9,15.5 45.0,14.0ZM113.5,26.1 113.5,98.5 37.8,98.5 36.9,93.0 36.6,89.0 36.6,87.5 37.5,85.0 36.6,81.0 36.7,78.0 35.9,76.0 33.5,74.0 33.3,73.5 33.0,69.5 31.7,66.0 32.0,64.9 32.7,64.0 34.0,63.3 40.5,62.3 44.0,62.3 47.5,61.9 54.5,58.4 56.1,56.5 56.5,52.0 58.4,47.0 59.5,45.5 60.5,44.9 62.5,44.6 64.5,44.9 68.0,48.3 69.5,48.7 78.5,48.6 82.5,48.2 87.8,47.0 92.9,45.0 98.9,41.5 104.0,37.5 108.8,32.5 113.1,26.5Z" fill="#fff000" fill-rule="evenodd"/>
<path d="M45.5,15.4 46.5,15.3 47.0,16.0 47.0,16.5 46.5,17.2 46.0,17.4 45.2,17.0 45.0,16.3 45.4,15.5ZM113.0,42.5 113.5,42.3 113.5,98.5 39.2,98.5 37.5,92.7 36.8,88.5 37.0,87.2 38.2,85.0 38.1,83.0 37.5,81.0 38.2,79.0 38.2,77.5 37.6,75.5 35.3,72.5 35.2,71.0 35.5,69.0 36.6,67.5 39.3,65.5 41.0,64.9 44.0,64.5 48.9,63.0 53.0,60.9 55.1,59.5 56.0,58.5 56.8,57.0 57.4,51.5 58.8,48.0 60.0,46.1 62.0,45.4 64.0,45.6 65.0,46.2 68.0,49.2 70.5,50.0 79.5,51.4 86.5,51.4 93.2,50.5 100.0,48.6 106.5,46.0 112.9,42.5Z" fill="#ffd800" fill-rule="evenodd"/>
<path d="M61.5,46.3 63.0,46.1 64.5,46.5 68.0,49.8 73.0,52.1 79.0,54.1 85.0,55.2 91.5,55.7 98.5,55.5 105.5,54.7 113.5,53.0 113.5,98.5 40.7,98.5 38.0,92.1 37.0,88.5 37.2,87.5 38.8,85.5 39.5,82.2 40.7,79.5 40.1,77.0 38.4,72.5 38.3,71.0 38.6,70.0 39.5,68.5 41.5,66.9 51.5,63.4 54.0,62.1 56.0,60.5 57.0,59.2 57.6,57.5 57.9,52.5 58.4,50.5 59.5,48.0 61.0,46.5Z" fill="#ffbe00" fill-rule="evenodd"/>
<path d="M62.0,46.9 63.5,46.7 64.5,47.0 68.5,50.9 73.0,54.0 78.0,56.7 84.0,59.0 90.5,60.7 97.5,61.9 105.5,62.8 113.5,63.2 113.5,98.5 42.6,98.5 38.5,91.6 37.3,88.5 37.5,87.6 39.6,85.5 42.5,79.5 42.5,77.5 40.9,72.5 41.3,70.0 42.3,68.5 44.3,67.0 53.0,64.5 55.0,63.4 56.7,62.0 57.8,60.5 58.5,58.5 58.6,52.5 58.9,50.5 60.0,48.4 61.8,47.0Z" fill="#ffa000" fill-rule="evenodd"/>
<path d="M62.5,47.4 64.0,47.3 65.0,47.8 68.5,51.9 73.0,56.6 77.0,59.7 81.5,62.4 94.5,68.2 113.5,75.1 113.5,98.5 45.2,98.5 39.0,91.0 37.9,88.5 38.0,88.0 40.0,86.5 41.6,84.5 43.7,81.5 44.5,79.5 44.7,77.5 43.1,72.5 43.2,70.0 44.3,68.5 45.5,67.7 54.0,65.9 56.5,64.7 58.0,63.3 59.1,61.5 59.7,59.5 59.8,57.5 59.2,53.0 59.5,50.5 60.5,48.7 62.3,47.5Z" fill="#ff8000" fill-rule="evenodd"/>
<path d="M63.0,47.8 64.5,47.8 65.8,49.0 71.5,58.9 75.0,63.0 79.5,66.8 95.3,78.5 103.5,86.0 108.8,92.5 110.7,96.0 111.6,98.5 49.1,98.5 39.5,90.1 39.1,89.0 39.3,88.5 42.0,86.5 44.0,84.5 45.7,82.0 46.5,80.0 46.6,77.0 44.7,71.5 45.0,69.5 46.0,68.6 47.0,68.3 52.5,68.4 56.0,67.6 59.0,65.8 60.8,63.5 61.3,62.0 61.5,60.0 60.0,53.8 59.8,51.5 60.5,49.5 62.6,48.0Z" fill="#ff5a00" fill-rule="evenodd"/>
<path d="M63.0,48.3 64.0,48.0 65.0,48.6 66.4,51.0 67.3,53.5 67.6,55.5 67.5,57.9 67.0,59.4 66.0,60.1 64.5,59.4 63.0,57.7 61.5,55.4 60.7,53.5 60.4,52.0 60.6,50.5 61.3,49.5 62.8,48.5ZM66.5,65.3 67.5,65.2 69.0,66.0 75.0,71.5 80.5,77.5 84.3,83.0 86.3,87.5 87.0,91.5 86.5,95.0 84.6,98.5 57.3,98.5 49.0,93.5 46.2,91.5 44.7,90.0 44.5,89.5 44.6,88.5 48.3,83.5 49.3,81.0 49.7,79.0 49.3,75.5 48.2,73.5 46.5,71.5 46.1,70.5 46.2,70.0 47.0,69.6 47.5,69.7 50.0,70.8 52.0,71.3 56.5,71.0 61.0,69.2 66.2,65.5Z" fill="#ff2a00" fill-rule="evenodd"/>
<path d="M64.0,48.4 65.2,49.5 66.2,52.5 66.0,54.5 65.5,55.3 64.5,55.8 63.5,55.5 62.5,54.8 61.5,53.4 61.0,52.0 61.0,51.0 61.5,50.0 63.6,48.5ZM59.5,79.0 62.0,78.6 64.0,78.9 65.5,79.7 67.0,81.2 67.8,83.0 68.0,85.0 67.3,87.0 66.0,88.3 63.5,89.4 61.0,89.5 58.5,88.9 56.5,87.5 55.7,85.5 56.1,83.0 57.5,80.3 59.5,79.0Z" fill="#e8001e" fill-rule="evenodd"/>
<path d="M64.0,48.9 65.0,50.0 65.4,52.0 65.0,53.3 64.0,53.9 62.5,53.2 61.7,51.5 61.9,50.5 63.6,49.0Z" fill="#b8064a" fill-rule="evenodd"/>
<path d="M63.5,49.9 64.0,49.8 64.6,51.0 64.5,52.0 64.0,52.4 63.0,52.1 62.6,51.5 62.6,51.0 63.4,50.0Z" fill="#7a0a7e" fill-rule="evenodd"/>
</g>
<g clip-path="url(#nm)"><rect x="-3" y="-3" width="117" height="101" fill="#0a14f5"/>
<path d="M-2.5,-3.0 113.5,-3.0 113.5,98.5 -3.0,98.5 -3.0,-3.0Z" fill="#0050f5" fill-rule="evenodd"/>
<path d="M-2.5,-3.0 113.5,-3.0 113.5,98.5 -3.0,98.5 -3.0,-3.0Z" fill="#0096f8" fill-rule="evenodd"/>
<path d="M-2.5,-3.0 113.5,-3.0 113.5,98.5 -3.0,98.5 -3.0,-3.0ZM95.2,18.0 94.7,19.5 95.4,20.5 96.5,20.7 98.2,20.0 98.5,19.5 98.3,19.0 97.6,18.0 96.5,17.5 95.5,17.8ZM91.4,29.5 90.1,30.5 89.5,31.5 89.0,34.0 89.4,35.5 90.0,36.3 91.0,36.9 92.0,37.0 93.5,36.5 94.5,35.6 95.5,33.7 95.7,32.0 95.2,30.5 94.5,29.8 93.0,29.2 91.5,29.5Z" fill="#00d2f5" fill-rule="evenodd"/>
<path d="M-2.5,-3.0 113.5,-3.0 113.5,98.5 -3.0,98.5 -3.0,-3.0ZM94.1,14.0 93.0,14.9 92.2,16.0 91.5,18.5 92.0,22.2 92.5,23.5 93.0,23.9 95.5,23.3 98.5,21.8 99.5,21.0 100.2,19.5 100.0,17.0 98.5,14.5 96.5,13.5 94.5,13.8ZM90.7,25.5 88.5,26.7 86.3,28.5 82.4,33.0 79.2,38.5 77.1,44.5 76.6,50.0 76.8,52.5 77.5,54.9 78.5,56.9 79.9,58.5 81.5,59.6 83.0,60.2 85.5,60.3 88.0,59.7 90.5,58.3 92.5,56.6 94.5,54.3 96.0,51.9 97.5,48.6 98.5,45.3 99.2,39.0 98.9,36.0 98.2,33.0 96.6,30.0 93.7,27.0 92.5,25.2 91.0,25.3Z" fill="#00e6c8" fill-rule="evenodd"/>
<path d="M-2.5,-3.0 113.5,-3.0 113.5,55.0 108.2,44.0 104.6,37.5 101.2,32.5 97.5,28.6 96.9,27.5 96.7,26.5 97.3,25.0 100.5,21.7 101.5,20.0 102.1,17.5 102.2,14.5 101.5,11.5 100.0,9.0 98.0,7.5 95.5,6.9 94.0,7.1 92.5,7.7 91.0,8.8 89.8,10.5 88.5,14.0 87.8,20.5 86.8,22.5 84.0,25.0 80.0,27.3 70.5,31.6 54.5,37.8 -3.0,58.2 -3.0,-3.0Z" fill="#00d68c" fill-rule="evenodd"/>
<path d="M46.5,-3.0 79.0,-3.0 78.5,0.5 78.8,4.0 80.2,8.5 83.8,16.5 84.1,18.5 83.6,20.0 82.5,21.0 81.5,21.5 78.5,21.7 74.2,20.5 70.3,18.5 63.1,13.0 46.0,-3.0ZM106.5,-3.0 113.5,-3.0 113.5,35.9 108.5,33.0 102.0,28.5 100.5,27.2 100.0,26.0 100.1,24.5 102.0,22.1 105.6,15.0 107.7,9.5 108.2,6.0 108.1,3.0 107.5,0.1 106.4,-3.0Z" fill="#14c050" fill-rule="evenodd"/>
<path d="M108.0,19.5 111.0,19.3 113.5,19.9 113.5,23.2 111.8,24.0 109.7,24.5 108.0,24.4 106.5,23.9 105.4,22.5 105.4,20.5 106.0,19.9 107.8,19.5Z" fill="#14a82c" fill-rule="evenodd"/>
</g>

</g>
<path d="M112.46,16.07 L112.72,17.51 L111.40,18.19 L111.71,20.54 L109.03,19.86 L104.13,22.47 L104.28,24.64 L102.17,27.82 L101.98,29.64 L100.32,32.78 L97.38,31.91 L97.23,35.85 L96.36,37.14 L96.78,38.73 L94.89,39.64 L92.93,33.62 L91.87,33.66 L91.27,36.04 L89.20,34.11 L90.37,31.95 L92.06,31.72 L93.80,28.50 L91.61,27.86 L88.10,27.93 L84.52,27.40 L84.18,24.75 L82.41,24.60 L79.40,22.93 L78.08,25.51 L80.79,27.52 L78.45,28.92 L77.59,30.32 L79.92,31.34 L79.28,33.62 L80.60,36.46 L81.17,39.57 L80.64,40.97 L78.08,40.93 L73.44,41.69 L73.63,44.57 L71.63,46.81 L66.20,49.35 L61.98,53.82 L59.15,56.21 L55.38,58.67 L55.38,60.41 L53.50,61.36 L50.10,62.72 L48.33,62.91 L47.24,65.79 L47.99,70.72 L48.22,73.87 L46.60,77.47 L46.60,83.91 L44.64,84.10 L42.94,86.98 L44.07,88.23 L40.64,89.33 L39.36,91.91 L37.85,92.97 L34.27,89.44 L32.54,84.14 L31.10,80.31 L29.78,78.53 L27.75,74.89 L26.84,70.15 L26.16,67.77 L22.73,62.57 L21.19,55.22 L20.06,50.37 L20.06,45.78 L20.36,43.21 L19.04,40.93 L19.23,38.85 L17.72,40.55 L17.34,42.45 L13.87,44.49 L11.20,44.04 L8.29,41.69 L5.66,38.85 L6.79,38.09 L9.43,37.71 L11.12,36.19 L8.67,36.57 L6.41,36.57 L4.15,35.25 L2.56,33.39 L5.05,30.85 L13.35,30.85 L12.59,27.59 L10.48,25.70 L10.07,22.78 L7.35,21.60 L8.90,17.21 L12.82,15.54 L16.70,13.27 L19.79,9.47 L22.62,6.82 L24.50,4.70 L26.77,2.27 L29.26,0.87 L26.20,-0.99 L24.88,-3.56 L23.56,-6.90 L25.41,-8.53 L31.14,-7.58 L35.32,-8.15 L38.98,-11.33 L43.02,-6.90 L42.64,-3.83 L44.15,-1.86 L44.03,0.08 L41.32,-0.45 L42.37,3.71 L46.07,6.14 L51.31,8.79 L48.93,10.50 L47.46,14.06 L51.12,15.46 L54.63,17.32 L59.57,19.48 L64.77,19.97 L66.92,21.87 L69.82,22.25 L74.38,23.12 L77.51,23.08 L77.93,21.57 L77.44,19.14 L77.74,17.51 L80.04,16.71 L80.34,19.71 L80.45,18.50 L83.84,18.65 L86.22,18.57 L89.42,18.65 L92.48,18.57 L92.74,18.00 L91.23,17.43 L94.25,17.43 L97.68,14.63 L102.05,12.20 L105.18,13.15 L107.90,11.56 L109.67,13.91 L108.39,15.50 L112.46,16.07Z M77.74,17.51 L77.44,19.14 L77.93,21.57 L77.51,23.08 L74.38,23.12 L69.82,22.25 L66.92,21.87 L64.77,19.97 L59.57,19.48 L54.63,17.32 L51.12,15.46 L47.46,14.06 L48.93,10.50 L51.31,8.79 L52.89,7.88 L55.91,9.02 L59.72,11.52 L61.83,12.05 L63.07,13.87 L66.01,14.63 L69.07,16.30 L73.33,17.17 L77.74,17.51Z M91.23,17.43 L92.74,18.00 L92.48,18.57 L89.42,18.65 L86.22,18.57 L83.84,18.65 L80.45,18.50 L80.34,17.81 L82.86,16.30 L84.90,15.73 L87.58,16.49 L89.58,16.68 L91.23,17.43Z M94.89,39.64 L94.82,42.37 L93.50,41.77 L93.76,44.84 L92.67,42.86 L92.48,40.93 L91.72,39.11 L90.18,36.88 L86.71,36.73 L87.05,38.32 L85.84,40.40 L84.26,39.64 L83.69,40.33 L82.64,39.91 L81.17,39.57 L80.60,36.46 L79.28,33.62 L79.92,31.34 L77.59,30.32 L78.45,28.92 L80.79,27.52 L78.08,25.51 L79.40,22.93 L82.41,24.60 L84.18,24.75 L84.52,27.40 L88.10,27.93 L91.61,27.86 L93.80,28.50 L92.06,31.72 L90.37,31.95 L89.20,34.11 L91.27,36.04 L91.87,33.66 L92.93,33.62 L94.89,39.64Z M53.87,94.67 L53.31,98.62 L51.72,99.68 L48.44,100.55 L46.63,97.55 L45.99,92.10 L47.69,85.96 L50.29,88.04 L52.03,90.73 L53.87,94.67Z M93.76,44.84 L95.76,46.62 L98.40,48.89 L100.28,51.54 L101.41,54.95 L101.98,57.99 L101.04,61.40 L102.54,62.72 L104.81,63.48 L107.07,62.16 L109.71,60.26 M2.56,33.39 L-0.23,32.44 L-1.13,30.32 M-0.75,3.79 L1.51,3.03 L3.77,2.46 L6.03,1.90 L6.97,-0.38" fill="none" stroke="#2a2a2a" stroke-width="0.75" stroke-linejoin="round"/>
</g>
<rect x="0" y="0" width="110.2" height="94.8" fill="none" stroke="#333" stroke-width="1.3"/>
<path d="M0,92.86 h-1.6 M0,85.28 h-3.2 M0,77.70 h-1.6 M0,70.11 h-1.6 M0,62.54 h-1.6 M0,54.95 h-1.6 M0,47.38 h-3.2 M0,39.80 h-1.6 M0,32.22 h-1.6 M0,24.64 h-1.6 M0,17.05 h-1.6 M0,9.47 h-3.2 M0,1.90 h-1.6 M1.89,94.8 v1.6 M9.43,94.8 v3.2 M16.96,94.8 v1.6 M24.50,94.8 v1.6 M32.05,94.8 v1.6 M39.59,94.8 v1.6 M47.12,94.8 v3.2 M54.66,94.8 v1.6 M62.20,94.8 v1.6 M69.75,94.8 v1.6 M77.28,94.8 v1.6 M84.83,94.8 v3.2 M92.36,94.8 v1.6 M99.91,94.8 v1.6 M107.45,94.8 v1.6" stroke="#333" stroke-width="0.9"/>
<text x="-6.6" y="13.47" font-size="10.2" text-anchor="end" fill="#1a1a1a">30N</text>
<text x="-6.6" y="51.38" font-size="10.2" text-anchor="end" fill="#1a1a1a">20N</text>
<text x="-6.6" y="89.28" font-size="10.2" text-anchor="end" fill="#1a1a1a">10N</text>
<text x="9.43" y="111.8" font-size="10.2" text-anchor="middle" fill="#1a1a1a">70E</text>
<text x="47.12" y="111.8" font-size="10.2" text-anchor="middle" fill="#1a1a1a">80E</text>
<text x="84.83" y="111.8" font-size="10.2" text-anchor="middle" fill="#1a1a1a">90E</text>
<text x="103.0" y="87.1" font-size="17" fill="#000" text-anchor="end" style="stroke-width:0.15px">f</text>
</g>
<g transform="translate(467.4 10.0) scale(1.0064 1.0053)">
<g clip-path="url(#fr)">
<g clip-path="url(#mask)">
<g clip-path="url(#mm)"><rect x="-3" y="-3" width="117" height="101" fill="#4e1488"/>
<path d="M-2.5,-3.0 113.5,-3.0 113.5,98.5 -3.0,98.5 -3.0,-3.0Z" fill="#3c12c4" fill-rule="evenodd"/>
<path d="M-2.5,-3.0 113.5,-3.0 113.5,98.5 -3.0,98.5 -3.0,-3.0Z" fill="#1010ec" fill-rule="evenodd"/>
<path d="M-2.5,-3.0 113.5,-3.0 113.5,98.5 -3.0,98.5 -3.0,-3.0Z" fill="#0e7262" fill-rule="evenodd"/>
<path d="M-2.5,-3.0 113.5,-3.0 113.5,98.5 -3.0,98.5 -3.0,-3.0ZM35.4,89.5 34.9,90.0 35.5,90.3 35.8,90.0 35.5,89.5Z" fill="#34b040" fill-rule="evenodd"/>
<path d="M-2.5,-3.0 113.5,-3.0 113.5,98.5 -3.0,98.5 -3.0,-3.0ZM35.7,6.0 35.2,7.0 35.6,8.0 36.5,8.5 37.5,8.4 38.2,7.5 38.0,6.2 37.0,5.5 36.0,5.8ZM22.5,10.5 22.5,11.5 23.5,12.0 24.0,11.5 24.0,11.0 23.0,10.3ZM61.8,21.0 61.5,21.5 61.4,22.5 62.0,22.9 62.5,22.8 63.4,22.0 63.5,21.4 63.0,20.7 62.0,20.9ZM33.6,89.0 33.1,90.0 33.5,91.0 34.5,91.3 36.0,90.7 36.4,90.0 36.0,88.9 35.0,88.6 34.0,88.8Z" fill="#b8e6c0" fill-rule="evenodd"/>
<path d="M-2.5,-3.0 113.5,-3.0 113.5,98.5 -3.0,98.5 -3.0,-3.0ZM36.3,0.5 34.5,1.6 33.0,3.4 32.0,5.5 31.7,7.5 32.1,9.0 33.0,10.1 35.0,10.9 37.0,11.1 39.0,10.5 40.1,9.5 41.4,7.0 41.8,4.5 41.3,2.5 40.1,1.0 38.5,0.3 36.5,0.4ZM22.1,10.0 21.8,11.0 22.4,12.0 23.0,12.5 24.0,12.5 24.7,11.5 24.4,10.5 23.5,9.8 22.5,9.7ZM60.6,19.5 59.5,20.2 57.4,22.5 55.0,24.4 54.3,25.5 54.2,26.5 54.5,28.0 55.1,29.0 56.0,29.6 57.5,29.9 59.5,29.1 65.0,23.0 65.3,21.5 64.5,20.2 63.0,19.4 61.0,19.4ZM33.0,87.5 31.3,89.0 30.8,91.0 31.4,92.5 33.0,93.1 35.0,92.4 36.8,90.0 36.7,89.0 36.0,88.1 34.5,87.3 33.5,87.4Z" fill="#fffac8" fill-rule="evenodd"/>
<path d="M-2.5,-3.0 30.9,-3.0 28.8,7.5 28.5,11.5 28.9,13.0 29.9,14.5 31.1,15.5 32.5,15.9 36.0,14.5 42.0,13.7 44.2,13.0 44.7,12.0 44.6,9.5 48.0,7.7 49.7,5.0 50.7,1.0 50.5,-3.0 113.5,-3.0 113.5,98.5 -3.0,98.5 -3.0,-3.0ZM22.0,9.0 21.1,10.0 21.2,11.0 22.5,13.0 23.0,13.3 24.0,13.4 25.4,12.0 25.7,11.0 23.5,9.2 22.0,9.0ZM47.4,13.0 46.5,13.2 45.6,14.0 44.2,18.0 42.0,19.6 36.0,21.0 32.0,20.7 27.0,22.2 25.8,28.0 25.7,30.0 26.5,32.0 29.0,34.9 31.1,36.0 36.0,37.2 40.0,37.6 53.5,37.7 56.0,36.7 58.8,34.0 62.5,31.4 63.8,29.5 65.1,26.0 67.7,23.0 68.0,21.5 67.4,20.0 66.0,19.0 64.0,18.5 62.0,17.5 60.0,17.3 57.5,18.4 55.8,21.0 54.5,22.1 53.0,22.7 52.0,22.5 50.0,21.5 49.1,20.5 49.1,19.5 50.2,17.5 50.4,14.5 49.5,13.4 47.5,13.0ZM37.1,59.5 36.3,60.5 36.3,62.0 37.0,63.0 38.0,63.2 39.0,62.3 39.3,60.5 38.6,59.5 37.5,59.4ZM44.1,72.0 42.2,73.5 41.8,74.5 41.9,75.5 42.5,76.5 44.0,77.6 45.5,78.0 46.5,77.8 47.5,77.3 48.2,76.5 48.6,75.5 48.4,74.0 47.0,72.2 46.0,71.8 44.5,71.9ZM32.1,86.0 30.4,87.0 28.9,88.5 28.0,90.0 27.4,92.0 27.4,93.5 28.0,95.2 29.0,96.3 30.5,96.9 32.5,96.7 34.5,95.2 35.5,93.8 37.3,90.0 37.2,89.0 35.5,86.2 34.5,85.6 32.5,85.9Z" fill="#fff000" fill-rule="evenodd"/>
<path d="M-2.5,-3.0 22.4,-3.0 26.0,2.5 26.7,5.0 26.0,6.7 25.9,8.5 25.5,9.2 24.5,9.1 22.5,7.6 21.5,7.3 20.4,7.5 19.5,8.5 19.6,10.0 21.3,13.0 21.9,16.0 21.5,16.8 20.5,17.4 18.0,17.4 17.4,17.0 16.5,14.9 13.0,11.8 10.0,9.8 6.5,8.4 4.0,7.8 1.5,7.7 -0.5,8.0 -3.0,9.1 -3.0,-3.0ZM70.5,-3.0 113.5,-3.0 113.5,98.5 37.3,98.5 37.0,92.0 37.9,89.5 37.2,87.5 37.2,86.5 37.5,84.5 38.0,83.4 39.0,83.1 39.6,83.5 39.9,84.5 39.6,86.0 40.5,86.6 48.5,84.8 50.5,84.0 52.4,82.5 53.8,80.5 54.5,78.5 54.5,75.0 53.2,71.0 50.0,64.5 47.0,62.4 46.1,61.0 45.9,58.0 45.2,55.0 45.5,53.0 46.2,51.0 47.5,49.2 49.5,47.9 52.0,47.4 59.7,47.0 61.5,46.5 63.0,45.4 65.5,42.3 67.2,39.0 67.4,33.5 68.5,29.8 70.0,28.0 73.9,25.0 74.5,24.0 74.9,21.0 74.2,17.5 73.0,15.0 70.0,11.0 69.2,8.5 69.3,5.0 70.4,-3.0ZM52.5,18.0 53.8,18.5 54.3,19.5 53.9,20.5 53.0,21.0 52.0,20.9 51.1,20.0 51.5,18.5 52.3,18.0ZM-2.8,29.5 0.2,32.5 3.0,34.3 4.5,34.6 9.5,34.8 12.5,35.8 14.0,37.2 15.2,39.5 16.0,40.2 20.0,39.6 22.5,40.2 24.5,41.7 25.9,44.0 28.9,57.5 28.3,62.0 30.1,65.5 32.0,66.9 32.8,68.0 34.4,72.5 33.7,76.0 36.0,79.0 36.5,81.0 35.9,82.0 35.1,82.5 28.4,86.0 25.0,89.0 23.5,91.0 22.2,93.5 21.5,96.0 21.2,98.5 -3.0,98.5 -3.0,29.3Z" fill="#ffd700" fill-rule="evenodd"/>
<path d="M97.0,-3.0 113.5,-3.0 113.5,98.5 59.2,98.5 62.0,92.8 63.5,88.5 64.1,84.0 63.7,79.5 62.7,76.0 61.0,72.5 54.0,63.8 51.1,59.0 50.3,54.0 50.5,53.0 51.5,51.8 53.0,51.4 55.0,51.6 57.5,51.3 60.5,51.9 64.5,51.9 66.0,51.3 67.4,50.0 68.9,47.0 70.4,36.5 71.3,34.0 73.0,32.0 78.0,29.0 80.5,26.5 82.4,24.0 85.4,19.0 97.0,-3.0ZM18.0,12.4 19.0,12.4 20.2,13.5 20.6,15.5 20.0,16.5 18.5,16.6 17.8,16.0 17.3,14.0 17.4,13.0 17.8,12.5ZM8.0,37.9 9.5,37.7 11.5,38.2 15.5,41.1 19.5,41.9 21.0,42.5 23.1,44.5 23.9,46.5 24.3,50.0 25.2,53.5 25.3,60.5 25.7,62.5 27.2,65.0 30.6,68.0 31.5,69.2 32.7,72.5 32.6,76.0 33.8,80.0 33.3,81.0 32.0,82.0 24.4,85.5 18.9,89.0 13.8,93.5 9.5,98.5 -3.0,98.5 -3.0,40.4 3.5,39.9 5.0,39.4 7.6,38.0ZM38.5,87.7 39.0,88.0 39.2,88.5 39.0,88.7 38.4,88.0ZM40.0,89.7 41.2,91.0 41.3,92.0 41.0,92.3 40.0,92.1 39.4,91.5 39.7,90.0Z" fill="#ffa500" fill-rule="evenodd"/>
<path d="M18.5,14.0 19.0,13.8 19.8,14.5 19.8,15.5 19.5,15.9 19.0,16.0 18.3,15.5 18.2,14.5 18.5,14.0ZM112.5,17.9 113.5,17.6 113.5,98.5 92.5,98.5 81.0,79.0 76.1,72.0 72.0,67.1 70.0,65.1 68.0,63.9 66.5,63.6 60.5,63.2 58.5,62.7 56.5,61.7 54.5,60.1 52.9,58.0 52.2,56.0 52.2,54.5 52.5,53.9 53.5,53.3 57.5,53.4 60.4,54.5 67.0,58.7 68.5,59.0 70.0,58.6 71.5,57.4 72.5,56.1 73.5,54.2 74.1,52.0 74.3,48.5 73.1,43.5 72.8,40.0 73.3,37.0 74.5,35.1 76.0,34.1 80.5,32.5 112.3,18.0ZM10.0,40.0 12.0,40.1 15.0,42.0 19.0,43.4 20.5,44.5 21.6,46.0 22.4,48.0 23.2,51.5 22.3,59.0 22.6,62.5 23.4,64.0 24.6,65.5 29.5,68.6 30.5,69.7 31.6,73.0 32.0,79.2 31.0,80.4 29.0,81.2 11.5,85.3 3.5,86.8 -3.0,87.2 -3.0,48.5 4.0,44.7 5.5,43.6 8.0,40.9 9.7,40.0Z" fill="#ff5a0a" fill-rule="evenodd"/>
<path d="M78.0,36.4 81.0,36.6 84.4,37.5 87.8,39.0 90.9,41.0 93.0,43.0 94.6,45.5 95.0,47.5 94.5,49.1 93.5,50.0 92.3,50.5 89.0,50.6 85.5,49.4 81.5,47.0 78.0,43.9 76.0,40.7 75.6,39.0 75.8,38.0 76.4,37.0 77.5,36.5ZM11.0,41.7 12.0,41.6 14.0,42.9 17.1,44.0 19.0,45.4 20.1,47.0 21.5,50.5 21.6,51.5 18.1,59.0 17.6,61.5 17.8,63.5 19.0,65.8 21.1,67.5 23.8,68.5 28.5,69.4 29.4,70.0 30.5,74.0 30.4,78.0 29.8,78.5 27.0,79.0 23.0,78.8 19.1,78.0 14.4,76.5 10.5,74.8 7.3,73.0 4.9,71.0 3.0,68.4 2.2,66.5 1.7,64.0 1.7,61.5 2.2,58.5 4.3,53.5 9.0,46.1 9.9,43.0 10.6,42.0ZM54.0,54.6 56.1,55.0 58.0,56.0 58.6,57.0 58.4,58.0 57.5,58.5 56.0,58.2 54.0,56.4 53.6,55.0Z" fill="#f40a14" fill-rule="evenodd"/>
</g>
<g clip-path="url(#nm)"><rect x="-3" y="-3" width="117" height="101" fill="#4e1488"/>
<path d="M-2.5,-3.0 113.5,-3.0 113.5,98.5 -3.0,98.5 -3.0,-3.0Z" fill="#3c12c4" fill-rule="evenodd"/>
<path d="M-2.5,-3.0 113.5,-3.0 113.5,98.5 -3.0,98.5 -3.0,-3.0Z" fill="#1010ec" fill-rule="evenodd"/>
<path d="M-2.5,-3.0 113.5,-3.0 113.5,98.5 -3.0,98.5 -3.0,-3.0ZM93.4,18.0 92.6,19.0 92.7,19.5 93.0,19.8 94.0,20.0 94.7,19.5 95.0,18.5 94.5,17.9 93.5,17.9Z" fill="#0e7262" fill-rule="evenodd"/>
<path d="M-2.5,-3.0 113.5,-3.0 113.5,98.5 -3.0,98.5 -3.0,-3.0ZM94.2,15.5 92.5,17.0 91.8,18.5 92.0,20.0 93.5,21.0 94.5,20.8 95.7,20.0 96.5,19.0 97.2,17.5 97.2,16.5 96.6,15.5 95.5,15.2 94.5,15.3Z" fill="#34b040" fill-rule="evenodd"/>
<path d="M-2.5,-3.0 113.5,-3.0 113.5,98.5 -3.0,98.5 -3.0,-3.0ZM96.4,11.0 95.0,11.7 93.5,13.0 92.0,15.3 91.4,17.0 91.2,18.5 91.4,20.0 92.5,21.5 93.5,22.1 94.5,21.8 100.0,18.5 101.5,18.5 103.0,20.0 103.5,20.0 103.7,19.5 102.4,14.0 101.3,12.0 100.0,11.0 99.0,10.7 96.5,10.9Z" fill="#b8e6c0" fill-rule="evenodd"/>
<path d="M-2.5,-3.0 113.5,-3.0 113.5,98.5 -3.0,98.5 -3.0,-3.0ZM100.8,2.5 98.0,3.4 95.5,5.3 93.0,8.6 91.5,11.9 90.6,15.5 90.6,19.0 91.1,20.5 92.9,24.0 93.5,24.4 94.6,24.0 96.0,21.9 98.5,21.4 100.5,20.5 101.0,20.5 103.0,21.7 104.0,21.3 104.6,20.5 106.9,14.5 107.6,12.0 107.9,9.5 107.6,7.5 107.0,5.7 106.0,4.3 104.5,3.1 103.0,2.6 101.0,2.5ZM91.2,31.5 90.4,32.0 89.8,33.0 89.8,34.0 90.5,34.6 92.0,34.3 92.8,33.0 92.5,31.7 91.5,31.4Z" fill="#fffac8" fill-rule="evenodd"/>
<path d="M-2.5,-3.0 91.5,-3.0 90.1,3.0 89.5,8.5 89.4,14.5 90.0,19.0 92.2,24.5 93.0,25.8 94.0,26.3 97.5,26.2 100.0,27.6 101.5,27.0 104.5,23.6 106.0,20.0 113.5,14.7 113.5,98.5 -3.0,98.5 -3.0,-3.0ZM88.7,30.0 84.0,30.2 82.0,30.8 79.8,32.5 77.8,35.5 76.6,39.0 76.7,42.5 78.0,45.4 80.0,47.0 81.5,47.6 83.5,47.7 87.0,46.6 90.5,43.9 93.0,40.3 94.9,35.0 95.0,33.5 94.6,32.0 93.6,30.5 92.5,29.8 91.0,29.6 89.0,29.9Z" fill="#fff000" fill-rule="evenodd"/>
<path d="M-2.5,-3.0 81.8,-3.0 85.5,6.6 88.9,17.5 91.1,23.5 91.5,26.6 90.5,27.7 88.5,27.9 86.9,27.0 86.4,26.0 86.2,24.5 85.7,24.0 83.5,24.5 80.5,24.2 79.0,24.6 62.8,30.5 53.4,34.5 43.6,39.5 34.8,45.0 28.0,50.0 22.2,55.0 16.6,60.5 11.8,66.0 7.3,72.0 3.5,78.0 0.6,83.5 -3.0,91.5 -3.0,-3.0ZM112.0,23.5 113.5,23.3 113.5,98.5 105.0,98.5 105.3,90.5 105.1,83.0 103.6,67.0 100.8,51.5 95.3,29.5 95.8,28.5 97.0,28.0 101.0,28.7 104.6,28.0 106.6,27.0 110.0,24.1 111.8,23.5Z" fill="#ffd700" fill-rule="evenodd"/>
<path d="M70.0,5.4 73.0,5.2 76.5,5.9 80.0,7.7 83.0,10.1 86.0,14.0 89.0,19.7 90.6,24.0 90.7,25.0 90.2,26.0 89.5,26.4 88.5,26.2 87.7,25.5 86.8,23.5 86.0,23.0 83.5,22.9 81.0,21.7 76.5,21.1 73.1,20.0 70.3,18.5 67.9,16.5 65.9,13.5 65.3,11.5 65.4,10.0 65.8,8.5 66.9,7.0 69.6,5.5ZM97.0,29.4 98.0,29.1 100.1,29.5 102.5,30.5 104.9,32.0 106.4,33.5 106.9,34.5 107.0,35.5 106.7,36.5 105.5,37.3 104.0,37.5 102.0,37.1 100.0,36.0 98.5,34.6 96.8,32.0 96.5,30.5 96.9,29.5Z" fill="#ffa500" fill-rule="evenodd"/>
<path d="M79.0,13.9 80.5,13.6 82.0,13.8 84.0,14.8 85.5,16.2 88.7,20.5 89.2,23.0 89.8,24.0 89.7,25.0 88.8,25.0 88.1,23.5 87.0,22.6 83.0,21.5 80.1,20.0 78.9,19.0 77.9,17.5 77.7,16.0 78.0,14.9 78.9,14.0ZM98.5,29.9 99.5,30.2 100.4,31.0 100.7,32.0 100.0,32.9 99.0,32.9 97.8,32.0 97.5,30.5 98.2,30.0Z" fill="#ff5a0a" fill-rule="evenodd"/>
<path d="M82.0,17.3 83.0,17.2 84.5,17.8 87.8,21.0 87.5,21.4 82.0,19.9 81.3,19.0 81.3,18.0 81.7,17.5Z" fill="#f40a14" fill-rule="evenodd"/>
</g>
<path d="M12.55 39.35h0M14.90 37.00h0M17.25 15.85h0M19.60 13.50h0M19.60 18.20h0M21.95 15.85h0M24.30 8.80h0M29.00 60.50h0M29.00 69.90h0M31.35 62.85h0M31.35 67.55h0M33.70 51.10h0M36.05 53.45h0M36.05 67.55h0M38.40 51.10h0M38.40 55.80h0M38.40 65.20h0M38.40 69.90h0M40.75 11.15h0M40.75 53.45h0M40.75 58.15h0M40.75 67.55h0M40.75 81.65h0M40.75 86.35h0M43.10 41.70h0M43.10 55.80h0M43.10 84.00h0M45.45 25.25h0M45.45 39.35h0M45.45 44.05h0M47.80 27.60h0M47.80 41.70h0M50.15 44.05h0M52.50 32.30h0M52.50 46.40h0M54.85 34.65h0M54.85 44.05h0M57.20 41.70h0M64.25 39.35h0M66.60 41.70h0M68.95 39.35h0M68.95 44.05h0M71.30 32.30h0M71.30 37.00h0M71.30 41.70h0M73.65 29.95h0M73.65 39.35h0M83.05 20.55h0M87.75 25.25h0M90.10 22.90h0M99.50 22.90h0" stroke="#000" stroke-width="1.7" stroke-linecap="round" fill="none"/>
</g>
<path d="M112.46,16.07 L112.72,17.51 L111.40,18.19 L111.71,20.54 L109.03,19.86 L104.13,22.47 L104.28,24.64 L102.17,27.82 L101.98,29.64 L100.32,32.78 L97.38,31.91 L97.23,35.85 L96.36,37.14 L96.78,38.73 L94.89,39.64 L92.93,33.62 L91.87,33.66 L91.27,36.04 L89.20,34.11 L90.37,31.95 L92.06,31.72 L93.80,28.50 L91.61,27.86 L88.10,27.93 L84.52,27.40 L84.18,24.75 L82.41,24.60 L79.40,22.93 L78.08,25.51 L80.79,27.52 L78.45,28.92 L77.59,30.32 L79.92,31.34 L79.28,33.62 L80.60,36.46 L81.17,39.57 L80.64,40.97 L78.08,40.93 L73.44,41.69 L73.63,44.57 L71.63,46.81 L66.20,49.35 L61.98,53.82 L59.15,56.21 L55.38,58.67 L55.38,60.41 L53.50,61.36 L50.10,62.72 L48.33,62.91 L47.24,65.79 L47.99,70.72 L48.22,73.87 L46.60,77.47 L46.60,83.91 L44.64,84.10 L42.94,86.98 L44.07,88.23 L40.64,89.33 L39.36,91.91 L37.85,92.97 L34.27,89.44 L32.54,84.14 L31.10,80.31 L29.78,78.53 L27.75,74.89 L26.84,70.15 L26.16,67.77 L22.73,62.57 L21.19,55.22 L20.06,50.37 L20.06,45.78 L20.36,43.21 L19.04,40.93 L19.23,38.85 L17.72,40.55 L17.34,42.45 L13.87,44.49 L11.20,44.04 L8.29,41.69 L5.66,38.85 L6.79,38.09 L9.43,37.71 L11.12,36.19 L8.67,36.57 L6.41,36.57 L4.15,35.25 L2.56,33.39 L5.05,30.85 L13.35,30.85 L12.59,27.59 L10.48,25.70 L10.07,22.78 L7.35,21.60 L8.90,17.21 L12.82,15.54 L16.70,13.27 L19.79,9.47 L22.62,6.82 L24.50,4.70 L26.77,2.27 L29.26,0.87 L26.20,-0.99 L24.88,-3.56 L23.56,-6.90 L25.41,-8.53 L31.14,-7.58 L35.32,-8.15 L38.98,-11.33 L43.02,-6.90 L42.64,-3.83 L44.15,-1.86 L44.03,0.08 L41.32,-0.45 L42.37,3.71 L46.07,6.14 L51.31,8.79 L48.93,10.50 L47.46,14.06 L51.12,15.46 L54.63,17.32 L59.57,19.48 L64.77,19.97 L66.92,21.87 L69.82,22.25 L74.38,23.12 L77.51,23.08 L77.93,21.57 L77.44,19.14 L77.74,17.51 L80.04,16.71 L80.34,19.71 L80.45,18.50 L83.84,18.65 L86.22,18.57 L89.42,18.65 L92.48,18.57 L92.74,18.00 L91.23,17.43 L94.25,17.43 L97.68,14.63 L102.05,12.20 L105.18,13.15 L107.90,11.56 L109.67,13.91 L108.39,15.50 L112.46,16.07Z M77.74,17.51 L77.44,19.14 L77.93,21.57 L77.51,23.08 L74.38,23.12 L69.82,22.25 L66.92,21.87 L64.77,19.97 L59.57,19.48 L54.63,17.32 L51.12,15.46 L47.46,14.06 L48.93,10.50 L51.31,8.79 L52.89,7.88 L55.91,9.02 L59.72,11.52 L61.83,12.05 L63.07,13.87 L66.01,14.63 L69.07,16.30 L73.33,17.17 L77.74,17.51Z M91.23,17.43 L92.74,18.00 L92.48,18.57 L89.42,18.65 L86.22,18.57 L83.84,18.65 L80.45,18.50 L80.34,17.81 L82.86,16.30 L84.90,15.73 L87.58,16.49 L89.58,16.68 L91.23,17.43Z M94.89,39.64 L94.82,42.37 L93.50,41.77 L93.76,44.84 L92.67,42.86 L92.48,40.93 L91.72,39.11 L90.18,36.88 L86.71,36.73 L87.05,38.32 L85.84,40.40 L84.26,39.64 L83.69,40.33 L82.64,39.91 L81.17,39.57 L80.60,36.46 L79.28,33.62 L79.92,31.34 L77.59,30.32 L78.45,28.92 L80.79,27.52 L78.08,25.51 L79.40,22.93 L82.41,24.60 L84.18,24.75 L84.52,27.40 L88.10,27.93 L91.61,27.86 L93.80,28.50 L92.06,31.72 L90.37,31.95 L89.20,34.11 L91.27,36.04 L91.87,33.66 L92.93,33.62 L94.89,39.64Z M53.87,94.67 L53.31,98.62 L51.72,99.68 L48.44,100.55 L46.63,97.55 L45.99,92.10 L47.69,85.96 L50.29,88.04 L52.03,90.73 L53.87,94.67Z M93.76,44.84 L95.76,46.62 L98.40,48.89 L100.28,51.54 L101.41,54.95 L101.98,57.99 L101.04,61.40 L102.54,62.72 L104.81,63.48 L107.07,62.16 L109.71,60.26 M2.56,33.39 L-0.23,32.44 L-1.13,30.32 M-0.75,3.79 L1.51,3.03 L3.77,2.46 L6.03,1.90 L6.97,-0.38" fill="none" stroke="#2a2a2a" stroke-width="0.75" stroke-linejoin="round"/>
</g>
<rect x="0" y="0" width="110.2" height="94.8" fill="none" stroke="#333" stroke-width="1.3"/>
<path d="M0,92.86 h-1.6 M0,85.28 h-3.2 M0,77.70 h-1.6 M0,70.11 h-1.6 M0,62.54 h-1.6 M0,54.95 h-1.6 M0,47.38 h-3.2 M0,39.80 h-1.6 M0,32.22 h-1.6 M0,24.64 h-1.6 M0,17.05 h-1.6 M0,9.47 h-3.2 M0,1.90 h-1.6 M1.89,94.8 v1.6 M9.43,94.8 v3.2 M16.96,94.8 v1.6 M24.50,94.8 v1.6 M32.05,94.8 v1.6 M39.59,94.8 v1.6 M47.12,94.8 v3.2 M54.66,94.8 v1.6 M62.20,94.8 v1.6 M69.75,94.8 v1.6 M77.28,94.8 v1.6 M84.83,94.8 v3.2 M92.36,94.8 v1.6 M99.91,94.8 v1.6 M107.45,94.8 v1.6" stroke="#333" stroke-width="0.9"/>
<text x="-6.6" y="13.47" font-size="10.2" text-anchor="end" fill="#1a1a1a">30N</text>
<text x="-6.6" y="51.38" font-size="10.2" text-anchor="end" fill="#1a1a1a">20N</text>
<text x="-6.6" y="89.28" font-size="10.2" text-anchor="end" fill="#1a1a1a">10N</text>
<text x="103.6" y="84.0" font-size="17" fill="#000" text-anchor="end" style="stroke-width:0.15px">g</text>
</g>
<g transform="translate(467.4 109.6) scale(1.0064 1.0063)">
<g clip-path="url(#fr)">
<g clip-path="url(#mask)">
<g clip-path="url(#mm)"><rect x="-3" y="-3" width="117" height="101" fill="#4e1488"/>
<path d="M-2.5,-3.0 113.5,-3.0 113.5,98.5 -3.0,98.5 -3.0,-3.0Z" fill="#3c12c4" fill-rule="evenodd"/>
<path d="M-2.5,-3.0 113.5,-3.0 113.5,98.5 -3.0,98.5 -3.0,-3.0ZM33.9,17.5 33.3,18.5 33.4,19.5 34.0,20.2 35.0,20.2 35.5,19.5 35.4,18.5 35.0,17.6 34.0,17.4Z" fill="#1010ec" fill-rule="evenodd"/>
<path d="M-2.5,-3.0 113.5,-3.0 113.5,98.5 -3.0,98.5 -3.0,-3.0ZM30.4,8.5 29.0,9.1 28.7,10.0 28.7,11.5 29.7,14.5 30.5,20.5 31.5,22.4 33.0,23.5 35.5,24.2 39.5,24.5 44.5,24.2 51.5,21.6 56.5,18.9 56.6,17.5 56.0,16.4 55.0,15.8 53.5,15.5 51.7,16.0 46.5,19.2 41.5,19.3 39.5,19.8 39.0,19.6 38.9,17.5 35.6,13.0 34.5,9.5 33.0,8.6 30.5,8.5ZM49.4,71.0 49.5,72.1 50.0,72.4 50.3,71.5 50.0,71.0 49.5,70.9Z" fill="#0e7262" fill-rule="evenodd"/>
<path d="M-2.5,-3.0 113.5,-3.0 113.5,98.5 -3.0,98.5 -3.0,-3.0ZM30.8,7.5 28.5,8.0 27.9,8.5 27.2,10.0 26.9,11.5 28.1,21.5 29.0,24.1 30.5,25.6 33.0,26.1 39.5,26.4 46.0,25.9 53.5,23.5 55.0,22.6 57.7,20.0 57.9,19.0 57.0,16.2 56.0,15.0 55.0,14.4 53.5,14.0 52.0,14.3 46.5,16.9 42.5,16.8 39.5,15.7 38.5,14.9 36.9,13.0 35.5,9.5 34.5,8.2 33.0,7.6 31.0,7.5ZM48.9,70.0 48.3,71.0 48.3,74.5 49.5,75.7 51.5,75.7 52.5,75.0 53.0,74.0 53.2,73.0 52.8,71.5 52.0,70.5 51.0,69.8 50.0,69.6 49.0,69.9ZM28.2,74.5 27.9,75.0 28.0,75.7 28.5,76.0 29.5,75.7 29.9,74.5 29.5,74.1 28.5,74.3ZM35.7,89.0 35.6,89.5 36.0,89.9 36.9,89.5 37.0,88.9 36.5,88.5 36.0,88.7Z" fill="#34b040" fill-rule="evenodd"/>
<path d="M-2.5,-3.0 113.5,-3.0 113.5,98.5 -3.0,98.5 -3.0,-3.0ZM29.7,7.0 28.0,7.6 26.5,9.0 25.6,10.5 25.4,12.0 25.5,17.5 26.1,22.0 27.5,26.0 28.7,27.5 31.5,28.1 36.0,27.9 40.5,28.2 46.5,27.7 54.5,25.7 56.0,25.1 57.0,24.3 58.5,20.5 58.5,19.0 57.5,15.4 56.5,13.9 55.5,13.1 54.0,12.5 52.5,12.6 47.0,15.5 42.5,15.9 39.5,14.9 38.5,14.0 37.5,12.5 36.0,8.6 35.0,7.5 33.0,6.6 30.0,6.9ZM23.2,59.5 22.6,60.0 22.7,60.5 23.5,61.1 24.5,61.0 24.7,60.5 24.5,60.0 23.5,59.5ZM49.5,68.5 48.5,69.0 47.9,70.0 47.1,74.5 47.3,76.0 48.0,77.4 49.5,78.4 51.0,78.7 53.0,78.4 54.5,77.5 55.6,76.0 55.9,74.5 55.6,72.5 54.4,70.5 53.0,69.3 51.0,68.4 49.5,68.5ZM28.4,73.5 26.5,74.2 25.1,75.5 24.7,77.0 25.0,78.0 25.5,78.5 26.5,78.7 28.0,78.3 30.0,76.5 30.5,75.5 30.5,74.5 29.5,73.5 28.5,73.5ZM35.6,88.0 33.9,89.0 33.1,90.0 33.1,91.0 33.6,91.5 35.5,91.5 37.0,90.4 37.5,89.5 37.4,88.5 37.0,88.0 36.0,87.9Z" fill="#b8e6c0" fill-rule="evenodd"/>
<path d="M-2.5,-3.0 113.5,-3.0 113.5,98.5 30.1,98.5 33.5,95.7 36.0,93.1 37.5,90.6 37.8,88.5 37.5,87.8 36.5,87.2 32.0,87.5 30.3,87.0 29.1,86.0 28.5,84.5 28.4,83.0 30.6,77.5 31.1,74.5 30.5,73.5 29.5,72.9 25.5,72.7 22.5,73.3 19.8,75.0 17.4,78.0 15.2,82.5 14.1,87.0 13.9,91.5 14.6,95.0 16.6,98.5 -3.0,98.5 -3.0,-3.0ZM30.7,6.0 27.1,7.5 25.6,8.5 24.5,10.0 24.1,11.5 23.8,17.0 24.3,21.5 25.6,26.0 27.5,29.3 28.5,29.8 30.5,29.9 36.0,29.6 40.5,30.0 48.0,29.6 56.0,27.7 57.5,27.0 58.6,26.0 58.9,25.0 58.7,22.5 59.1,20.5 59.0,19.0 58.0,14.3 57.0,12.5 56.0,11.5 54.0,10.6 52.0,10.7 51.0,11.2 48.8,13.5 47.0,14.8 43.0,15.3 42.0,15.2 39.9,14.5 38.8,13.5 38.0,12.0 36.8,8.5 35.5,6.7 33.5,5.8 31.0,5.9ZM76.3,37.5 76.0,38.5 76.5,39.4 77.5,39.8 78.2,39.5 78.8,38.5 78.5,37.6 77.5,37.0 76.5,37.3ZM22.1,59.5 21.9,60.5 22.5,61.2 24.5,62.3 25.5,62.0 26.0,61.0 25.5,59.9 24.0,59.2 22.5,59.2ZM48.5,67.5 47.8,68.0 47.2,69.0 47.0,72.0 45.4,75.5 45.3,78.0 45.0,79.0 44.5,79.2 42.4,79.0 41.8,79.5 42.0,80.5 43.5,81.0 45.5,80.4 49.5,81.5 52.0,81.8 54.5,81.6 56.2,81.0 58.1,79.5 59.1,77.5 59.3,75.0 58.5,72.5 56.7,70.0 54.0,68.1 51.5,67.2 49.0,67.3Z" fill="#fffac8" fill-rule="evenodd"/>
<path d="M-2.5,-3.0 113.5,-3.0 113.5,98.5 36.3,98.5 38.1,90.0 38.0,87.6 37.0,86.5 34.0,86.4 32.8,85.5 32.2,84.5 31.6,81.5 32.0,75.0 31.8,74.0 30.0,72.3 28.0,72.0 24.5,69.0 23.0,68.5 19.5,69.2 16.0,71.0 11.9,74.0 8.2,77.5 4.9,81.5 1.9,86.0 -0.5,90.5 -3.0,96.4 -3.0,-3.0ZM31.4,5.0 25.0,7.8 23.5,9.5 22.8,11.5 22.3,17.5 22.8,22.5 23.8,26.0 26.5,31.0 28.0,31.6 36.0,31.5 40.5,32.0 44.0,31.8 48.5,32.0 57.0,29.8 58.5,29.1 59.8,28.0 60.4,27.0 60.5,26.0 59.5,23.0 59.7,20.5 59.0,14.0 58.2,11.5 56.5,9.4 55.0,8.5 53.0,7.9 51.0,8.0 49.5,8.4 48.6,9.0 48.7,11.5 47.7,13.5 46.0,14.6 42.5,14.9 40.5,14.3 39.4,13.5 38.4,11.5 37.5,8.0 36.0,5.9 34.0,4.9 31.5,5.0ZM45.3,8.5 44.0,10.0 44.0,10.8 44.5,11.0 46.9,9.0 46.9,8.5 46.5,8.2 45.5,8.3ZM76.4,35.5 75.4,36.0 74.8,37.0 74.8,38.0 75.3,39.0 77.0,40.5 78.0,40.6 79.4,40.0 80.4,38.5 80.2,37.0 78.5,35.7 76.5,35.5ZM22.5,58.5 21.5,58.9 20.9,59.5 20.9,61.0 22.9,62.5 24.5,65.1 25.5,65.4 27.0,64.8 27.8,64.0 28.2,63.0 28.2,62.0 27.6,60.5 26.7,59.5 25.5,58.8 22.5,58.5ZM47.7,66.0 46.0,66.9 45.5,68.0 46.2,71.0 46.0,72.2 45.0,73.0 44.0,73.3 41.0,73.3 39.7,74.5 39.2,77.0 38.0,79.5 38.0,80.5 38.4,81.5 39.5,82.3 41.0,82.8 46.5,83.6 54.5,85.7 58.5,85.6 61.5,84.2 63.5,81.7 64.2,78.5 63.5,75.0 61.9,72.0 58.8,69.0 55.5,67.0 51.5,65.8 48.0,65.9Z" fill="#fff000" fill-rule="evenodd"/>
<path d="M-2.5,-3.0 113.5,-3.0 113.5,98.5 40.0,98.5 39.0,94.7 38.5,91.0 38.7,86.0 39.5,85.0 42.5,84.9 46.0,85.8 49.2,87.5 56.5,92.8 59.5,94.7 63.0,95.9 66.0,95.8 68.0,95.1 69.6,94.0 71.3,92.0 72.3,90.0 73.0,87.5 73.2,85.0 72.9,82.0 72.2,79.5 70.2,75.5 67.4,72.0 63.7,69.0 60.1,67.0 54.0,64.9 45.5,63.5 41.5,61.2 32.0,60.6 25.5,57.6 24.0,57.9 22.0,57.6 20.5,58.2 19.1,59.5 17.5,62.5 16.0,64.1 4.5,71.0 -3.0,76.1 -3.0,-3.0ZM31.6,4.0 28.0,6.2 25.0,6.7 24.0,7.3 22.5,9.0 21.4,12.0 20.7,17.5 21.4,24.0 22.3,26.5 26.0,32.9 27.0,33.2 30.5,33.1 33.5,34.0 37.0,34.1 42.5,35.3 49.0,35.2 51.5,34.8 57.5,32.6 59.5,31.6 61.0,30.3 62.2,28.5 62.4,27.0 60.1,22.5 60.2,20.5 59.7,17.5 60.1,13.5 59.9,11.0 59.0,8.8 57.5,6.9 55.0,5.3 52.5,4.6 49.5,4.6 46.5,5.6 44.8,7.0 43.4,10.5 43.6,11.0 44.5,11.3 46.0,10.9 47.0,11.1 47.5,12.0 47.3,13.0 46.0,14.1 42.5,14.5 40.9,14.0 39.7,13.0 38.8,11.0 37.8,7.0 36.5,4.8 34.5,3.7 32.0,3.9ZM70.2,32.0 69.8,33.0 70.4,34.5 73.3,38.5 76.3,41.0 77.5,41.4 79.5,41.3 81.4,40.5 82.4,39.5 82.7,38.5 82.6,37.0 82.0,36.0 80.9,35.0 78.0,33.9 74.0,33.7 72.0,32.0 70.5,31.8Z" fill="#ffd700" fill-rule="evenodd"/>
<path d="M-2.5,-3.0 113.5,-3.0 113.5,98.5 107.0,98.5 94.8,85.0 86.1,77.0 81.2,73.5 75.4,70.0 70.2,67.5 65.5,65.8 55.5,63.5 49.0,62.5 40.0,59.1 29.0,57.4 24.5,56.2 21.5,56.4 19.4,57.0 11.0,61.2 -3.0,66.2 -3.0,-3.0ZM50.7,1.0 49.0,1.3 47.0,2.2 45.5,3.4 44.4,5.0 43.1,10.5 43.2,11.0 44.0,11.6 46.0,11.5 46.7,12.0 46.6,13.0 45.5,13.8 42.5,14.1 41.5,13.8 40.3,13.0 39.0,10.0 38.0,4.5 37.0,3.2 35.5,2.4 34.0,2.2 32.0,2.7 30.0,3.9 28.0,5.8 24.0,6.0 21.6,8.0 20.6,10.0 19.3,14.5 19.1,21.0 20.1,26.0 24.0,31.8 24.4,33.0 24.5,35.1 25.5,35.6 28.5,34.5 30.0,34.4 31.3,35.0 33.0,36.9 36.5,36.6 38.0,36.8 39.5,37.5 41.0,38.8 42.0,39.1 46.5,38.9 51.5,39.0 55.0,38.3 58.5,37.0 60.5,35.6 63.5,32.6 65.0,31.9 66.0,32.2 66.8,33.0 68.2,36.5 69.5,38.0 72.1,40.0 75.5,41.7 77.5,42.4 82.0,42.7 84.0,42.3 85.3,41.5 86.4,40.0 86.6,38.0 85.9,36.0 84.5,34.5 82.0,33.2 76.5,31.6 71.5,28.5 66.5,26.8 62.5,24.3 61.1,23.0 60.2,17.5 61.7,13.0 62.0,10.5 61.8,8.5 61.1,6.5 59.3,4.0 57.0,2.2 54.0,1.1 51.0,1.0ZM41.0,86.4 42.5,86.5 44.5,87.4 45.9,88.5 47.1,90.0 47.9,92.0 48.0,93.5 47.5,94.9 46.5,95.8 45.0,96.2 43.0,95.7 41.5,94.7 40.0,92.9 39.0,90.8 38.9,89.5 39.5,87.4 40.7,86.5Z" fill="#ffa500" fill-rule="evenodd"/>
<path d="M-2.5,-3.0 48.2,-3.0 44.6,-1.0 41.0,1.8 37.0,0.3 35.0,0.2 33.5,0.5 30.5,2.2 28.0,5.3 23.5,5.0 21.6,6.0 20.2,7.5 17.6,15.0 17.1,18.5 17.1,20.5 18.6,27.0 23.1,32.5 23.3,33.5 22.9,35.5 23.3,36.5 24.0,36.9 26.0,36.9 30.0,35.8 30.4,36.5 30.3,38.0 31.0,38.8 33.0,39.2 37.0,38.7 38.0,38.8 40.0,40.9 42.0,41.5 46.0,41.7 50.5,42.6 54.5,42.8 60.0,42.5 64.0,41.4 66.0,41.3 76.5,43.5 79.9,45.0 89.3,51.5 90.4,53.0 90.6,54.0 90.4,55.5 89.8,56.5 87.5,58.7 84.2,60.5 80.0,61.6 75.5,62.0 67.5,61.6 59.5,62.1 51.5,61.3 44.2,59.0 39.5,56.8 32.5,55.6 28.5,55.3 24.5,54.3 9.5,56.6 -3.0,57.7 -3.0,-3.0ZM58.0,-3.0 113.5,-3.0 113.5,60.7 103.9,55.5 101.1,53.5 99.6,52.0 98.6,50.0 97.6,43.5 96.3,39.5 94.2,36.0 91.6,33.5 89.1,32.0 86.5,31.1 83.5,30.7 79.5,30.8 78.0,30.3 69.2,23.5 68.1,22.0 67.8,20.0 67.0,19.1 66.5,19.0 65.8,19.5 65.6,20.5 66.2,22.0 65.5,22.8 63.5,23.2 62.0,22.4 61.2,20.5 60.8,17.5 63.9,13.5 64.7,12.0 65.3,9.5 65.2,6.5 64.4,3.5 62.9,1.0 60.9,-1.0 57.7,-3.0ZM41.0,3.4 42.0,4.2 42.7,6.0 43.1,8.0 42.8,11.0 44.0,11.8 45.5,12.0 46.0,12.3 45.9,13.0 45.5,13.3 43.5,13.7 42.0,13.6 41.0,13.0 40.0,11.2 39.3,9.5 39.1,7.5 40.0,4.6 40.9,3.5ZM40.5,88.0 42.0,88.1 43.1,89.0 43.6,90.5 43.0,91.7 42.0,92.0 41.0,91.7 39.5,90.4 39.4,89.0 40.4,88.0Z" fill="#ff5a0a" fill-rule="evenodd"/>
<path d="M-2.5,-3.0 34.6,-3.0 32.0,-1.4 30.0,0.4 28.9,2.0 28.0,4.3 27.5,4.7 24.5,3.9 23.0,3.7 21.0,4.3 19.5,5.4 17.9,8.0 17.5,12.0 15.3,15.5 14.6,19.5 15.8,23.0 15.9,27.0 17.0,29.0 20.9,32.0 21.3,33.5 20.8,36.0 21.3,37.5 22.5,38.3 25.0,38.1 26.5,38.5 29.8,40.5 32.0,41.5 36.5,41.9 40.5,43.9 46.0,45.0 53.5,47.1 61.0,47.7 69.5,45.8 73.5,46.2 75.2,47.0 76.1,48.5 76.2,50.5 75.4,52.5 73.0,54.6 67.0,56.9 64.0,58.5 58.0,59.6 52.0,58.8 45.0,56.4 41.0,54.4 34.0,52.5 25.0,51.5 19.5,52.2 11.5,51.7 8.5,51.0 1.0,48.3 -3.0,47.4 -3.0,-3.0ZM69.0,-3.0 113.5,-3.0 113.5,28.0 103.5,25.6 96.5,24.6 89.0,24.8 80.0,26.9 78.5,26.6 75.5,25.2 73.0,22.6 72.1,20.5 71.0,14.0 71.6,7.5 71.5,4.0 70.6,0.5 68.9,-3.0ZM40.5,6.7 41.5,6.7 42.0,7.2 42.5,8.5 42.2,11.0 44.4,12.5 44.3,13.0 42.5,13.3 41.3,12.5 39.9,9.5 39.7,8.0 40.1,7.0ZM62.5,17.4 63.4,17.5 63.8,18.0 63.9,20.0 63.5,21.3 62.5,20.9 61.9,20.0 61.7,18.0 62.3,17.5Z" fill="#f40a14" fill-rule="evenodd"/>
</g>
<g clip-path="url(#nm)"><rect x="-3" y="-3" width="117" height="101" fill="#4e1488"/>
<path d="M-2.5,-3.0 113.5,-3.0 113.5,98.5 -3.0,98.5 -3.0,-3.0Z" fill="#3c12c4" fill-rule="evenodd"/>
<path d="M-2.5,-3.0 113.5,-3.0 113.5,98.5 -3.0,98.5 -3.0,-3.0Z" fill="#1010ec" fill-rule="evenodd"/>
<path d="M-2.5,-3.0 113.5,-3.0 113.5,98.5 -3.0,98.5 -3.0,-3.0Z" fill="#0e7262" fill-rule="evenodd"/>
<path d="M-2.5,-3.0 113.5,-3.0 113.5,98.5 -3.0,98.5 -3.0,-3.0Z" fill="#34b040" fill-rule="evenodd"/>
<path d="M-2.5,-3.0 113.5,-3.0 113.5,98.5 -3.0,98.5 -3.0,-3.0Z" fill="#b8e6c0" fill-rule="evenodd"/>
<path d="M-2.5,-3.0 113.5,-3.0 113.5,98.5 -3.0,98.5 -3.0,-3.0Z" fill="#fffac8" fill-rule="evenodd"/>
<path d="M-2.5,-3.0 113.5,-3.0 113.5,98.5 -3.0,98.5 -3.0,-3.0Z" fill="#fff000" fill-rule="evenodd"/>
<path d="M-2.5,-3.0 113.5,-3.0 113.5,4.3 105.0,16.3 104.0,18.0 103.7,19.5 104.5,20.9 106.0,22.0 113.5,25.4 113.5,98.5 -3.0,98.5 -3.0,-3.0Z" fill="#ffd700" fill-rule="evenodd"/>
<path d="M-2.5,-3.0 102.9,-3.0 102.4,17.5 102.7,20.5 103.5,22.5 105.5,25.9 113.5,36.8 113.5,98.5 -3.0,98.5 -3.0,-3.0Z" fill="#ffa500" fill-rule="evenodd"/>
<path d="M-2.5,-3.0 90.7,-3.0 99.5,14.5 101.4,19.5 102.0,25.1 104.1,35.5 105.9,47.0 112.7,98.5 -3.0,98.5 -3.0,-3.0Z" fill="#ff5a0a" fill-rule="evenodd"/>
<path d="M-2.5,-3.0 64.5,-3.0 78.7,6.0 97.5,17.2 100.0,19.2 100.3,20.5 99.0,24.5 98.0,31.0 96.5,35.3 68.9,98.5 -3.0,98.5 -3.0,-3.0Z" fill="#f40a14" fill-rule="evenodd"/>
</g>
<path d="M7.85 25.25h0M7.85 29.95h0M7.85 34.65h0M7.85 39.35h0M10.20 22.90h0M10.20 27.60h0M10.20 32.30h0M10.20 37.00h0M12.55 25.25h0M12.55 29.95h0M12.55 34.65h0M12.55 39.35h0M14.90 22.90h0M14.90 32.30h0M14.90 37.00h0M14.90 41.70h0M17.25 29.95h0M17.25 34.65h0M17.25 44.05h0M19.60 13.50h0M19.60 18.20h0M19.60 32.30h0M19.60 37.00h0M19.60 41.70h0M21.95 15.85h0M21.95 29.95h0M21.95 39.35h0M21.95 44.05h0M24.30 32.30h0M24.30 37.00h0M24.30 41.70h0M24.30 46.40h0M26.65 34.65h0M26.65 39.35h0M26.65 44.05h0M29.00 27.60h0M29.00 37.00h0M29.00 41.70h0M29.00 46.40h0M31.35 25.25h0M31.35 29.95h0M31.35 34.65h0M31.35 39.35h0M31.35 48.75h0M33.70 18.20h0M33.70 37.00h0M33.70 41.70h0M33.70 46.40h0M33.70 69.90h0M36.05 15.85h0M36.05 20.55h0M36.05 44.05h0M36.05 67.55h0M36.05 72.25h0M38.40 13.50h0M38.40 22.90h0M38.40 41.70h0M38.40 46.40h0M38.40 79.30h0M40.75 25.25h0M40.75 39.35h0M40.75 44.05h0M40.75 48.75h0M40.75 53.45h0M40.75 67.55h0M43.10 46.40h0M45.45 44.05h0M45.45 48.75h0M45.45 53.45h0M47.80 37.00h0M47.80 41.70h0M47.80 46.40h0M50.15 25.25h0M50.15 39.35h0M50.15 44.05h0M50.15 48.75h0M50.15 53.45h0M52.50 41.70h0M52.50 46.40h0M52.50 51.10h0M54.85 53.45h0M54.85 58.15h0M57.20 41.70h0M57.20 46.40h0M57.20 51.10h0M57.20 55.80h0M59.55 48.75h0M59.55 53.45h0M59.55 58.15h0M61.90 41.70h0M61.90 55.80h0M64.25 48.75h0M64.25 53.45h0M66.60 27.60h0M68.95 25.25h0M71.30 27.60h0M71.30 32.30h0M73.65 29.95h0M76.00 32.30h0M78.35 29.95h0M83.05 20.55h0M85.40 18.20h0M87.75 20.55h0M87.75 25.25h0M90.10 18.20h0M90.10 22.90h0M90.10 27.60h0M92.45 20.55h0M92.45 29.95h0M94.80 18.20h0M94.80 22.90h0M94.80 32.30h0M97.15 20.55h0M99.50 18.20h0M99.50 22.90h0M99.50 27.60h0" stroke="#000" stroke-width="1.7" stroke-linecap="round" fill="none"/>
</g>
<path d="M112.46,16.07 L112.72,17.51 L111.40,18.19 L111.71,20.54 L109.03,19.86 L104.13,22.47 L104.28,24.64 L102.17,27.82 L101.98,29.64 L100.32,32.78 L97.38,31.91 L97.23,35.85 L96.36,37.14 L96.78,38.73 L94.89,39.64 L92.93,33.62 L91.87,33.66 L91.27,36.04 L89.20,34.11 L90.37,31.95 L92.06,31.72 L93.80,28.50 L91.61,27.86 L88.10,27.93 L84.52,27.40 L84.18,24.75 L82.41,24.60 L79.40,22.93 L78.08,25.51 L80.79,27.52 L78.45,28.92 L77.59,30.32 L79.92,31.34 L79.28,33.62 L80.60,36.46 L81.17,39.57 L80.64,40.97 L78.08,40.93 L73.44,41.69 L73.63,44.57 L71.63,46.81 L66.20,49.35 L61.98,53.82 L59.15,56.21 L55.38,58.67 L55.38,60.41 L53.50,61.36 L50.10,62.72 L48.33,62.91 L47.24,65.79 L47.99,70.72 L48.22,73.87 L46.60,77.47 L46.60,83.91 L44.64,84.10 L42.94,86.98 L44.07,88.23 L40.64,89.33 L39.36,91.91 L37.85,92.97 L34.27,89.44 L32.54,84.14 L31.10,80.31 L29.78,78.53 L27.75,74.89 L26.84,70.15 L26.16,67.77 L22.73,62.57 L21.19,55.22 L20.06,50.37 L20.06,45.78 L20.36,43.21 L19.04,40.93 L19.23,38.85 L17.72,40.55 L17.34,42.45 L13.87,44.49 L11.20,44.04 L8.29,41.69 L5.66,38.85 L6.79,38.09 L9.43,37.71 L11.12,36.19 L8.67,36.57 L6.41,36.57 L4.15,35.25 L2.56,33.39 L5.05,30.85 L13.35,30.85 L12.59,27.59 L10.48,25.70 L10.07,22.78 L7.35,21.60 L8.90,17.21 L12.82,15.54 L16.70,13.27 L19.79,9.47 L22.62,6.82 L24.50,4.70 L26.77,2.27 L29.26,0.87 L26.20,-0.99 L24.88,-3.56 L23.56,-6.90 L25.41,-8.53 L31.14,-7.58 L35.32,-8.15 L38.98,-11.33 L43.02,-6.90 L42.64,-3.83 L44.15,-1.86 L44.03,0.08 L41.32,-0.45 L42.37,3.71 L46.07,6.14 L51.31,8.79 L48.93,10.50 L47.46,14.06 L51.12,15.46 L54.63,17.32 L59.57,19.48 L64.77,19.97 L66.92,21.87 L69.82,22.25 L74.38,23.12 L77.51,23.08 L77.93,21.57 L77.44,19.14 L77.74,17.51 L80.04,16.71 L80.34,19.71 L80.45,18.50 L83.84,18.65 L86.22,18.57 L89.42,18.65 L92.48,18.57 L92.74,18.00 L91.23,17.43 L94.25,17.43 L97.68,14.63 L102.05,12.20 L105.18,13.15 L107.90,11.56 L109.67,13.91 L108.39,15.50 L112.46,16.07Z M77.74,17.51 L77.44,19.14 L77.93,21.57 L77.51,23.08 L74.38,23.12 L69.82,22.25 L66.92,21.87 L64.77,19.97 L59.57,19.48 L54.63,17.32 L51.12,15.46 L47.46,14.06 L48.93,10.50 L51.31,8.79 L52.89,7.88 L55.91,9.02 L59.72,11.52 L61.83,12.05 L63.07,13.87 L66.01,14.63 L69.07,16.30 L73.33,17.17 L77.74,17.51Z M91.23,17.43 L92.74,18.00 L92.48,18.57 L89.42,18.65 L86.22,18.57 L83.84,18.65 L80.45,18.50 L80.34,17.81 L82.86,16.30 L84.90,15.73 L87.58,16.49 L89.58,16.68 L91.23,17.43Z M94.89,39.64 L94.82,42.37 L93.50,41.77 L93.76,44.84 L92.67,42.86 L92.48,40.93 L91.72,39.11 L90.18,36.88 L86.71,36.73 L87.05,38.32 L85.84,40.40 L84.26,39.64 L83.69,40.33 L82.64,39.91 L81.17,39.57 L80.60,36.46 L79.28,33.62 L79.92,31.34 L77.59,30.32 L78.45,28.92 L80.79,27.52 L78.08,25.51 L79.40,22.93 L82.41,24.60 L84.18,24.75 L84.52,27.40 L88.10,27.93 L91.61,27.86 L93.80,28.50 L92.06,31.72 L90.37,31.95 L89.20,34.11 L91.27,36.04 L91.87,33.66 L92.93,33.62 L94.89,39.64Z M53.87,94.67 L53.31,98.62 L51.72,99.68 L48.44,100.55 L46.63,97.55 L45.99,92.10 L47.69,85.96 L50.29,88.04 L52.03,90.73 L53.87,94.67Z M93.76,44.84 L95.76,46.62 L98.40,48.89 L100.28,51.54 L101.41,54.95 L101.98,57.99 L101.04,61.40 L102.54,62.72 L104.81,63.48 L107.07,62.16 L109.71,60.26 M2.56,33.39 L-0.23,32.44 L-1.13,30.32 M-0.75,3.79 L1.51,3.03 L3.77,2.46 L6.03,1.90 L6.97,-0.38" fill="none" stroke="#2a2a2a" stroke-width="0.75" stroke-linejoin="round"/>
</g>
<rect x="0" y="0" width="110.2" height="94.8" fill="none" stroke="#333" stroke-width="1.3"/>
<path d="M0,92.86 h-1.6 M0,85.28 h-3.2 M0,77.70 h-1.6 M0,70.11 h-1.6 M0,62.54 h-1.6 M0,54.95 h-1.6 M0,47.38 h-3.2 M0,39.80 h-1.6 M0,32.22 h-1.6 M0,24.64 h-1.6 M0,17.05 h-1.6 M0,9.47 h-3.2 M0,1.90 h-1.6 M1.89,94.8 v1.6 M9.43,94.8 v3.2 M16.96,94.8 v1.6 M24.50,94.8 v1.6 M32.05,94.8 v1.6 M39.59,94.8 v1.6 M47.12,94.8 v3.2 M54.66,94.8 v1.6 M62.20,94.8 v1.6 M69.75,94.8 v1.6 M77.28,94.8 v1.6 M84.83,94.8 v3.2 M92.36,94.8 v1.6 M99.91,94.8 v1.6 M107.45,94.8 v1.6" stroke="#333" stroke-width="0.9"/>
<text x="-6.6" y="13.47" font-size="10.2" text-anchor="end" fill="#1a1a1a">30N</text>
<text x="-6.6" y="51.38" font-size="10.2" text-anchor="end" fill="#1a1a1a">20N</text>
<text x="-6.6" y="89.28" font-size="10.2" text-anchor="end" fill="#1a1a1a">10N</text>
<text x="103.0" y="87.1" font-size="17" fill="#000" text-anchor="end" style="stroke-width:0.15px">h</text>
</g>
<g transform="translate(467.4 208.4) scale(1.0064 1.0116)">
<g clip-path="url(#fr)">
<g clip-path="url(#mask)">
<g clip-path="url(#mm)"><rect x="-3" y="-3" width="117" height="101" fill="#4e1488"/>
<path d="M-2.5,-3.0 113.5,-3.0 113.5,98.5 -3.0,98.5 -3.0,-3.0ZM63.7,47.5 63.4,48.5 64.0,49.1 64.6,48.5 64.5,47.8 64.0,47.4Z" fill="#3c12c4" fill-rule="evenodd"/>
<path d="M-2.5,-3.0 113.5,-3.0 113.5,98.5 -3.0,98.5 -3.0,-3.0ZM62.2,45.0 61.7,45.5 61.3,46.5 62.2,49.0 63.5,50.2 64.5,50.3 65.3,50.0 66.1,49.0 66.3,48.0 65.6,45.5 64.5,44.6 62.5,44.8Z" fill="#1010ec" fill-rule="evenodd"/>
<path d="M-2.5,-3.0 113.5,-3.0 113.5,98.5 -3.0,98.5 -3.0,-3.0ZM37.3,7.0 37.1,7.5 37.4,8.0 38.3,8.0 38.6,7.5 38.5,7.0 37.5,6.8ZM20.2,13.0 20.4,13.5 20.8,13.5 21.1,13.0 20.5,12.7ZM43.7,15.0 43.2,16.0 43.4,16.5 44.0,16.8 45.0,16.6 45.5,16.0 45.4,15.0 45.0,14.7 44.0,14.8ZM64.8,20.5 65.0,20.9 65.0,20.4ZM62.3,43.0 61.0,43.9 60.1,45.5 60.0,46.5 60.4,48.0 61.5,49.7 63.0,50.9 64.5,51.4 66.0,51.0 67.2,50.0 67.7,48.5 67.7,47.0 67.2,45.0 66.5,43.8 65.5,43.1 64.0,42.7 62.5,42.9Z" fill="#0e7262" fill-rule="evenodd"/>
<path d="M-2.5,-3.0 113.5,-3.0 113.5,98.5 -3.0,98.5 -3.0,-3.0ZM35.8,4.5 34.5,5.5 31.3,9.0 31.8,11.0 33.0,11.8 34.5,11.9 36.5,11.2 38.5,9.6 39.7,8.0 39.9,6.5 39.0,4.8 37.5,4.2 36.0,4.4ZM19.1,10.0 18.2,10.5 17.5,11.5 17.4,12.5 17.7,13.5 18.5,14.2 21.5,15.4 22.5,15.5 23.5,15.1 23.9,14.5 23.9,13.5 23.1,11.5 21.5,10.2 19.5,9.9ZM43.9,14.0 42.3,14.5 40.4,16.0 40.0,17.0 40.5,18.0 41.5,18.5 43.0,18.6 44.5,18.1 45.5,17.4 46.3,16.0 46.2,15.0 45.5,14.3 44.0,14.0ZM63.9,19.0 63.0,20.5 63.2,22.0 64.0,23.2 64.5,23.5 65.5,23.4 66.6,22.0 66.6,20.0 65.5,18.8 64.0,18.9ZM26.3,26.5 24.0,27.5 22.3,29.0 21.4,30.5 21.3,32.5 21.9,34.0 23.5,35.5 25.5,36.4 27.5,36.6 29.0,36.1 30.2,35.0 30.8,33.0 30.8,30.5 30.5,29.0 29.5,27.4 28.0,26.5 26.5,26.5ZM62.1,41.0 60.2,42.0 58.6,43.5 58.2,45.0 58.6,47.0 60.1,49.5 62.0,51.4 64.5,52.5 66.5,52.3 68.0,51.5 69.0,49.9 69.3,48.0 68.8,45.5 67.7,43.5 66.0,41.8 64.0,40.8 62.5,40.9ZM43.7,78.0 43.5,79.0 44.0,79.8 45.0,80.1 45.9,79.5 46.0,78.5 45.7,78.0 45.0,77.6 44.0,77.7Z" fill="#34b040" fill-rule="evenodd"/>
<path d="M-2.5,-3.0 113.5,-3.0 113.5,98.5 -3.0,98.5 -3.0,-3.0ZM36.5,1.0 35.5,1.2 34.0,2.1 30.6,6.0 27.0,9.3 25.5,9.4 21.0,6.7 19.5,6.1 17.5,5.9 16.0,6.2 14.4,7.0 13.0,8.5 12.3,10.0 12.1,11.5 12.4,13.5 14.5,18.0 14.9,19.5 14.5,24.5 15.1,29.0 15.2,33.5 15.5,35.0 16.7,36.5 25.5,43.0 35.0,42.6 37.0,42.2 38.5,41.3 39.1,40.0 38.9,38.0 36.3,35.0 35.5,32.5 35.5,30.0 36.3,26.0 37.0,24.5 38.0,23.5 45.0,19.3 46.2,18.0 46.9,16.5 46.8,15.0 46.0,14.0 44.5,13.4 41.0,13.3 39.6,12.5 39.3,11.0 41.2,7.0 41.2,4.5 40.5,3.0 39.5,1.9 38.5,1.3 37.0,1.0ZM64.7,17.0 63.5,17.3 62.5,18.1 61.9,19.0 61.6,20.5 61.0,31.5 61.5,33.0 63.0,34.4 63.5,34.4 64.5,33.7 65.5,32.0 68.0,23.0 68.0,21.0 67.5,18.9 66.5,17.5 65.0,17.0ZM62.3,38.0 59.5,40.0 56.4,41.5 55.6,43.0 56.0,45.5 58.3,49.0 62.0,52.4 65.0,53.8 66.5,53.9 68.0,53.6 69.6,52.5 70.7,50.5 71.0,48.5 70.5,46.0 69.1,43.5 65.5,39.1 64.0,37.8 62.5,37.9ZM43.7,76.5 42.9,77.0 42.5,78.0 42.6,79.0 43.1,80.0 44.0,80.7 45.0,81.0 46.8,80.5 47.5,79.5 47.3,78.0 46.0,76.8 44.0,76.4Z" fill="#b8e6c0" fill-rule="evenodd"/>
<path d="M-2.5,-3.0 8.7,-3.0 5.0,-0.4 2.7,3.0 2.1,5.0 1.8,7.5 2.5,12.0 3.8,15.0 7.0,20.2 8.0,22.5 10.6,32.0 11.1,37.0 11.5,38.0 15.0,39.2 20.0,43.0 21.2,44.5 22.7,48.5 23.5,49.2 24.5,49.4 25.8,49.0 28.5,46.9 30.0,46.4 36.5,46.4 41.0,45.8 42.6,45.0 43.7,43.5 43.9,42.5 43.4,41.0 38.6,34.5 38.2,33.0 38.2,31.0 40.3,25.0 41.5,23.8 44.3,22.0 45.5,20.8 47.2,18.0 47.7,15.5 47.4,14.5 46.5,13.6 44.5,12.7 41.6,12.0 40.7,11.0 40.9,10.0 42.9,6.5 43.4,3.5 42.7,0.0 40.6,-3.0 113.5,-3.0 113.5,98.5 -3.0,98.5 -3.0,-3.0ZM63.8,15.0 62.0,16.1 60.3,18.5 59.2,23.0 57.2,28.5 57.4,32.0 59.1,36.5 58.9,38.0 58.0,38.8 55.5,39.4 54.0,40.4 52.9,42.0 52.6,43.5 53.3,45.5 54.5,47.0 61.5,53.2 65.0,55.3 68.0,55.7 70.0,55.0 71.7,53.5 72.6,51.5 72.9,49.0 71.9,45.5 68.4,40.5 67.5,38.0 67.5,35.5 69.1,30.0 69.8,25.0 69.7,22.5 68.8,18.0 68.1,16.5 67.0,15.4 65.5,14.8 64.0,14.9ZM42.7,75.0 41.7,75.5 41.2,77.0 41.6,79.0 42.6,80.5 44.0,81.6 45.5,82.0 47.5,81.8 48.7,81.0 49.4,80.0 49.5,79.0 49.3,78.0 48.6,77.0 46.5,75.8 43.0,75.0ZM17.0,-3.0 32.0,-3.0 30.6,-0.5 29.6,4.0 28.5,5.1 27.0,5.4 25.1,4.5 20.5,-0.6 16.7,-3.0Z" fill="#fffac8" fill-rule="evenodd"/>
<path d="M47.5,-3.0 113.5,-3.0 113.5,98.5 -3.0,98.5 -3.0,31.2 1.0,33.2 6.0,34.1 7.5,34.8 8.6,36.0 9.9,39.0 12.5,39.9 13.2,40.5 14.4,43.5 15.2,46.5 14.7,54.5 15.3,60.5 16.5,64.0 19.0,67.5 24.1,72.0 27.2,74.0 33.5,76.2 36.5,75.3 38.0,75.5 39.0,76.3 42.0,81.0 43.5,82.2 45.5,83.1 48.5,83.3 50.0,82.8 51.1,82.0 52.2,80.0 52.2,78.5 51.9,77.5 50.0,75.5 48.5,74.9 45.5,74.2 42.9,72.0 41.2,69.5 39.2,64.5 35.0,59.2 34.0,58.9 33.1,59.5 32.5,62.5 31.2,64.0 29.5,64.4 27.9,63.5 24.8,57.5 24.5,56.0 24.9,55.0 29.0,49.5 30.0,49.0 31.0,48.9 34.5,49.9 43.5,50.7 44.5,50.3 48.0,47.9 50.5,47.7 52.5,48.3 56.0,50.2 59.0,52.2 64.0,56.5 66.0,57.6 68.0,58.2 70.0,58.1 72.0,57.4 73.5,56.0 74.5,54.5 75.2,51.0 74.6,47.5 72.9,44.0 69.8,40.5 69.4,39.5 71.6,27.0 71.8,24.0 70.8,20.0 70.8,17.5 70.4,15.5 69.5,13.8 68.0,12.3 66.0,11.6 64.0,11.8 62.0,13.0 60.0,15.3 56.7,20.5 56.5,22.5 56.0,23.8 53.3,27.5 52.9,29.0 53.1,33.5 52.9,35.0 52.1,36.5 50.6,38.0 48.5,39.0 46.5,38.8 43.0,36.7 40.5,34.5 40.3,32.5 41.3,30.5 42.5,29.8 45.3,29.0 46.6,27.5 46.2,24.5 48.2,17.5 48.3,14.5 47.5,13.1 43.2,11.0 43.0,10.5 45.2,6.5 46.5,3.5 47.2,0.5 47.3,-3.0ZM3.3,39.5 2.4,40.0 2.0,41.5 3.0,42.9 4.5,43.1 5.6,42.5 6.0,41.0 5.0,39.7 3.5,39.5ZM43.0,25.2 43.9,25.5 43.7,26.0 43.0,26.3 42.5,26.1 42.5,25.5Z" fill="#fff000" fill-rule="evenodd"/>
<path d="M57.5,-3.0 113.5,-3.0 113.5,98.5 -3.0,98.5 -3.0,67.4 9.0,73.1 18.0,76.1 22.7,77.0 27.0,77.4 32.5,77.4 35.5,76.8 37.0,77.0 38.5,78.0 41.5,81.6 44.5,83.8 48.0,85.1 51.0,85.2 53.5,84.4 55.8,82.5 56.8,80.5 56.8,78.0 55.7,76.0 54.0,74.4 51.2,73.0 47.0,72.1 45.4,70.5 43.4,66.0 42.0,60.5 42.1,57.5 43.3,55.5 49.0,51.1 50.5,50.6 52.5,50.6 55.5,51.3 58.5,52.9 65.0,60.0 66.5,61.1 68.5,62.1 71.0,62.4 73.0,61.9 75.0,60.7 76.8,58.5 77.7,56.5 78.2,54.5 77.9,50.0 76.3,46.0 72.3,40.0 72.0,39.0 72.5,36.0 72.8,31.0 73.9,25.5 74.0,23.0 73.6,14.0 72.8,11.0 71.5,8.7 69.5,6.6 67.0,5.2 64.5,4.7 62.5,5.4 61.5,6.2 60.5,7.7 57.3,16.5 56.3,18.0 54.3,20.0 53.7,22.0 52.5,22.8 51.0,22.9 50.0,22.4 49.1,21.0 48.9,19.5 49.2,13.5 48.6,12.0 47.4,10.5 47.4,9.5 48.2,8.0 50.0,5.7 55.8,0.0 57.4,-3.0ZM44.5,30.5 46.5,30.6 47.8,31.5 48.1,33.0 47.5,34.1 46.5,34.6 45.5,34.7 44.0,34.2 43.2,33.5 42.9,32.5 43.2,31.5 44.5,30.5Z" fill="#ffd700" fill-rule="evenodd"/>
<path d="M77.0,-3.0 113.5,-3.0 113.5,98.5 -3.0,98.5 -3.0,84.2 9.5,83.5 19.0,82.3 27.0,80.5 35.5,77.8 37.2,78.5 43.0,83.9 48.0,87.2 52.5,88.6 57.0,88.5 60.5,87.1 63.5,85.0 66.0,82.0 70.0,75.5 76.5,70.0 79.0,67.4 80.6,65.0 81.9,62.0 82.4,59.5 82.6,56.5 82.2,53.0 81.0,49.5 79.1,46.0 75.4,41.0 74.5,38.5 74.5,31.0 76.7,22.5 77.9,16.0 78.3,12.0 78.1,6.0 76.7,-3.0ZM52.0,11.0 53.5,10.6 54.5,11.1 55.5,12.4 55.9,14.5 55.6,16.5 54.8,18.0 53.0,19.8 52.0,20.2 51.0,20.0 50.5,19.4 50.0,17.5 50.5,13.5 51.0,12.1 52.0,11.0ZM53.0,52.5 55.5,52.6 57.5,53.3 59.0,54.5 60.5,57.0 62.2,61.5 63.0,65.5 62.5,68.0 61.0,69.4 57.5,69.9 51.0,68.9 48.5,67.7 46.8,65.5 46.3,64.0 46.1,62.0 47.0,58.6 49.8,54.0 51.2,53.0 52.8,52.5Z" fill="#ffa500" fill-rule="evenodd"/>
<path d="M89.5,-3.0 113.5,-3.0 113.5,98.5 2.7,98.5 21.0,88.2 35.0,79.2 36.5,79.6 41.0,83.2 47.0,89.7 50.0,92.2 54.5,94.7 59.0,95.8 62.0,96.0 65.0,95.8 68.0,95.1 71.0,94.0 76.5,90.8 81.6,86.0 85.5,80.5 88.5,74.0 89.9,67.5 90.0,61.5 88.8,56.0 86.3,50.5 83.5,46.5 78.0,40.8 76.7,39.0 76.0,36.5 76.0,33.0 76.9,28.5 82.1,18.0 84.8,11.5 89.3,-3.0ZM52.0,14.8 53.0,14.6 53.5,14.9 54.1,16.0 53.9,17.5 53.5,18.2 52.5,18.8 51.5,18.5 51.0,17.5 51.3,16.0 51.9,15.0ZM54.5,53.9 56.5,54.0 57.7,54.5 58.5,55.5 59.1,57.5 59.1,59.5 58.5,61.5 57.1,63.0 55.5,63.7 54.0,63.6 52.5,63.0 51.7,62.0 51.4,61.0 51.5,58.0 51.9,56.0 53.0,54.6 54.2,54.0Z" fill="#ff5a0a" fill-rule="evenodd"/>
<path d="M107.5,-2.9 113.5,-3.0 113.5,98.5 96.7,98.5 99.5,94.0 101.2,90.5 102.7,86.5 103.7,82.0 104.3,77.5 104.2,73.0 103.7,68.5 102.7,64.5 101.3,60.5 99.6,57.0 97.4,53.5 95.0,50.5 92.1,47.5 89.1,45.0 79.0,38.3 77.8,37.0 77.4,35.5 78.2,30.0 79.0,28.6 92.4,15.0 107.3,-2.5ZM56.0,55.3 57.0,55.3 57.4,56.0 57.2,57.0 56.5,57.8 55.5,57.7 55.0,57.1 55.1,56.0 55.6,55.5ZM36.0,82.5 40.0,83.7 42.5,86.6 44.8,94.0 46.8,98.5 23.7,98.5 32.4,85.5 34.5,83.1 35.8,82.5Z" fill="#f40a14" fill-rule="evenodd"/>
</g>
<g clip-path="url(#nm)"><rect x="-3" y="-3" width="117" height="101" fill="#4e1488"/>
<path d="M-2.5,-3.0 113.5,-3.0 113.5,98.5 -3.0,98.5 -3.0,-3.0Z" fill="#3c12c4" fill-rule="evenodd"/>
<path d="M-2.5,-3.0 113.5,-3.0 113.5,98.5 -3.0,98.5 -3.0,-3.0Z" fill="#1010ec" fill-rule="evenodd"/>
<path d="M-2.5,-3.0 113.5,-3.0 113.5,98.5 -3.0,98.5 -3.0,-3.0Z" fill="#0e7262" fill-rule="evenodd"/>
<path d="M-2.5,-3.0 113.5,-3.0 113.5,98.5 -3.0,98.5 -3.0,-3.0Z" fill="#34b040" fill-rule="evenodd"/>
<path d="M-2.5,-3.0 113.5,-3.0 113.5,98.5 -3.0,98.5 -3.0,-3.0ZM101.6,21.0 101.1,21.5 101.1,22.5 102.5,26.6 103.5,28.1 105.0,29.4 107.0,30.5 108.5,30.8 109.7,30.5 110.0,30.0 110.1,29.0 108.8,26.5 106.8,24.5 102.0,21.0Z" fill="#b8e6c0" fill-rule="evenodd"/>
<path d="M-2.5,-3.0 113.5,-3.0 113.5,17.8 108.5,20.2 106.0,20.9 104.6,20.5 103.0,18.5 102.0,18.0 100.5,18.0 99.0,19.1 98.8,20.5 100.2,25.5 100.5,30.0 100.3,34.0 99.7,38.0 98.7,41.5 95.5,48.2 92.5,52.7 88.0,58.1 64.9,83.0 51.3,98.5 -3.0,98.5 -3.0,-3.0Z" fill="#fffac8" fill-rule="evenodd"/>
<path d="M-2.5,-3.0 110.4,-3.0 108.2,2.5 105.7,7.5 103.6,10.5 99.5,15.1 98.0,17.8 97.7,20.0 98.8,24.0 99.0,26.0 98.8,28.0 98.2,29.5 93.0,35.4 91.0,36.4 89.0,36.6 86.5,36.2 84.0,34.8 82.2,33.0 79.0,28.7 77.0,27.0 74.5,25.8 71.0,25.0 65.0,24.5 55.0,24.3 -3.0,24.0 -3.0,-3.0Z" fill="#fff000" fill-rule="evenodd"/>
<path d="M85.0,0.9 88.0,0.8 91.0,2.2 93.5,4.7 95.4,8.5 96.2,12.0 96.6,19.0 97.7,24.0 97.8,26.0 97.6,27.5 97.0,28.4 95.0,29.6 91.5,29.9 90.0,29.4 88.8,27.5 88.5,24.5 88.1,23.5 85.0,21.8 83.7,20.0 81.0,12.0 80.6,7.5 81.1,5.0 82.0,3.2 83.1,2.0 84.8,1.0Z" fill="#ffd700" fill-rule="evenodd"/>
<path d="M89.5,13.5 91.0,13.5 92.5,14.2 94.0,15.9 95.0,17.8 96.8,24.5 96.5,26.9 95.5,27.8 93.0,28.0 91.2,27.0 89.2,23.0 86.7,19.5 86.5,17.5 87.0,15.6 88.0,14.2 89.4,13.5Z" fill="#ffa500" fill-rule="evenodd"/>
<path d="M90.0,17.9 91.0,17.5 92.0,17.6 93.0,18.1 94.3,19.5 95.6,23.5 95.6,25.0 95.0,26.1 94.0,26.4 93.0,26.2 91.5,24.8 89.2,20.0 89.2,19.0 89.9,18.0Z" fill="#ff5a0a" fill-rule="evenodd"/>
<path d="M92.0,20.3 93.0,20.3 93.6,21.0 94.4,23.5 94.0,24.5 93.4,24.5 92.5,23.5 91.7,21.5 91.8,20.5Z" fill="#f40a14" fill-rule="evenodd"/>
</g>
<path d="M21.75 13.00h0M21.75 17.70h0M21.75 45.90h0M24.10 15.35h0M24.10 20.05h0M26.45 27.10h0M26.45 36.50h0M28.80 24.75h0M28.80 29.45h0M28.80 38.85h0M31.15 27.10h0M31.15 36.50h0M33.50 15.35h0M33.50 24.75h0M33.50 71.75h0M35.85 22.40h0M35.85 83.50h0M38.20 48.25h0M38.20 81.15h0M38.20 85.85h0M40.55 50.60h0M40.55 69.40h0M40.55 83.50h0M40.55 88.20h0M42.90 15.35h0M42.90 34.15h0M42.90 52.95h0M42.90 67.05h0M42.90 85.85h0M45.25 31.80h0M45.25 36.50h0M45.25 60.00h0M47.60 34.15h0M47.60 57.65h0M49.95 55.30h0M52.30 20.05h0M54.65 55.30h0M89.90 20.05h0M92.25 22.40h0M94.60 24.75h0" stroke="#000" stroke-width="1.7" stroke-linecap="round" fill="none"/>
</g>
<path d="M112.46,16.07 L112.72,17.51 L111.40,18.19 L111.71,20.54 L109.03,19.86 L104.13,22.47 L104.28,24.64 L102.17,27.82 L101.98,29.64 L100.32,32.78 L97.38,31.91 L97.23,35.85 L96.36,37.14 L96.78,38.73 L94.89,39.64 L92.93,33.62 L91.87,33.66 L91.27,36.04 L89.20,34.11 L90.37,31.95 L92.06,31.72 L93.80,28.50 L91.61,27.86 L88.10,27.93 L84.52,27.40 L84.18,24.75 L82.41,24.60 L79.40,22.93 L78.08,25.51 L80.79,27.52 L78.45,28.92 L77.59,30.32 L79.92,31.34 L79.28,33.62 L80.60,36.46 L81.17,39.57 L80.64,40.97 L78.08,40.93 L73.44,41.69 L73.63,44.57 L71.63,46.81 L66.20,49.35 L61.98,53.82 L59.15,56.21 L55.38,58.67 L55.38,60.41 L53.50,61.36 L50.10,62.72 L48.33,62.91 L47.24,65.79 L47.99,70.72 L48.22,73.87 L46.60,77.47 L46.60,83.91 L44.64,84.10 L42.94,86.98 L44.07,88.23 L40.64,89.33 L39.36,91.91 L37.85,92.97 L34.27,89.44 L32.54,84.14 L31.10,80.31 L29.78,78.53 L27.75,74.89 L26.84,70.15 L26.16,67.77 L22.73,62.57 L21.19,55.22 L20.06,50.37 L20.06,45.78 L20.36,43.21 L19.04,40.93 L19.23,38.85 L17.72,40.55 L17.34,42.45 L13.87,44.49 L11.20,44.04 L8.29,41.69 L5.66,38.85 L6.79,38.09 L9.43,37.71 L11.12,36.19 L8.67,36.57 L6.41,36.57 L4.15,35.25 L2.56,33.39 L5.05,30.85 L13.35,30.85 L12.59,27.59 L10.48,25.70 L10.07,22.78 L7.35,21.60 L8.90,17.21 L12.82,15.54 L16.70,13.27 L19.79,9.47 L22.62,6.82 L24.50,4.70 L26.77,2.27 L29.26,0.87 L26.20,-0.99 L24.88,-3.56 L23.56,-6.90 L25.41,-8.53 L31.14,-7.58 L35.32,-8.15 L38.98,-11.33 L43.02,-6.90 L42.64,-3.83 L44.15,-1.86 L44.03,0.08 L41.32,-0.45 L42.37,3.71 L46.07,6.14 L51.31,8.79 L48.93,10.50 L47.46,14.06 L51.12,15.46 L54.63,17.32 L59.57,19.48 L64.77,19.97 L66.92,21.87 L69.82,22.25 L74.38,23.12 L77.51,23.08 L77.93,21.57 L77.44,19.14 L77.74,17.51 L80.04,16.71 L80.34,19.71 L80.45,18.50 L83.84,18.65 L86.22,18.57 L89.42,18.65 L92.48,18.57 L92.74,18.00 L91.23,17.43 L94.25,17.43 L97.68,14.63 L102.05,12.20 L105.18,13.15 L107.90,11.56 L109.67,13.91 L108.39,15.50 L112.46,16.07Z M77.74,17.51 L77.44,19.14 L77.93,21.57 L77.51,23.08 L74.38,23.12 L69.82,22.25 L66.92,21.87 L64.77,19.97 L59.57,19.48 L54.63,17.32 L51.12,15.46 L47.46,14.06 L48.93,10.50 L51.31,8.79 L52.89,7.88 L55.91,9.02 L59.72,11.52 L61.83,12.05 L63.07,13.87 L66.01,14.63 L69.07,16.30 L73.33,17.17 L77.74,17.51Z M91.23,17.43 L92.74,18.00 L92.48,18.57 L89.42,18.65 L86.22,18.57 L83.84,18.65 L80.45,18.50 L80.34,17.81 L82.86,16.30 L84.90,15.73 L87.58,16.49 L89.58,16.68 L91.23,17.43Z M94.89,39.64 L94.82,42.37 L93.50,41.77 L93.76,44.84 L92.67,42.86 L92.48,40.93 L91.72,39.11 L90.18,36.88 L86.71,36.73 L87.05,38.32 L85.84,40.40 L84.26,39.64 L83.69,40.33 L82.64,39.91 L81.17,39.57 L80.60,36.46 L79.28,33.62 L79.92,31.34 L77.59,30.32 L78.45,28.92 L80.79,27.52 L78.08,25.51 L79.40,22.93 L82.41,24.60 L84.18,24.75 L84.52,27.40 L88.10,27.93 L91.61,27.86 L93.80,28.50 L92.06,31.72 L90.37,31.95 L89.20,34.11 L91.27,36.04 L91.87,33.66 L92.93,33.62 L94.89,39.64Z M53.87,94.67 L53.31,98.62 L51.72,99.68 L48.44,100.55 L46.63,97.55 L45.99,92.10 L47.69,85.96 L50.29,88.04 L52.03,90.73 L53.87,94.67Z M93.76,44.84 L95.76,46.62 L98.40,48.89 L100.28,51.54 L101.41,54.95 L101.98,57.99 L101.04,61.40 L102.54,62.72 L104.81,63.48 L107.07,62.16 L109.71,60.26 M2.56,33.39 L-0.23,32.44 L-1.13,30.32 M-0.75,3.79 L1.51,3.03 L3.77,2.46 L6.03,1.90 L6.97,-0.38" fill="none" stroke="#2a2a2a" stroke-width="0.75" stroke-linejoin="round"/>
</g>
<rect x="0" y="0" width="110.2" height="94.8" fill="none" stroke="#333" stroke-width="1.3"/>
<path d="M0,92.86 h-1.6 M0,85.28 h-3.2 M0,77.70 h-1.6 M0,70.11 h-1.6 M0,62.54 h-1.6 M0,54.95 h-1.6 M0,47.38 h-3.2 M0,39.80 h-1.6 M0,32.22 h-1.6 M0,24.64 h-1.6 M0,17.05 h-1.6 M0,9.47 h-3.2 M0,1.90 h-1.6 M1.89,94.8 v1.6 M9.43,94.8 v3.2 M16.96,94.8 v1.6 M24.50,94.8 v1.6 M32.05,94.8 v1.6 M39.59,94.8 v1.6 M47.12,94.8 v3.2 M54.66,94.8 v1.6 M62.20,94.8 v1.6 M69.75,94.8 v1.6 M77.28,94.8 v1.6 M84.83,94.8 v3.2 M92.36,94.8 v1.6 M99.91,94.8 v1.6 M107.45,94.8 v1.6" stroke="#333" stroke-width="0.9"/>
<text x="-6.6" y="13.47" font-size="10.2" text-anchor="end" fill="#1a1a1a">30N</text>
<text x="-6.6" y="51.38" font-size="10.2" text-anchor="end" fill="#1a1a1a">20N</text>
<text x="-6.6" y="89.28" font-size="10.2" text-anchor="end" fill="#1a1a1a">10N</text>
<text x="9.43" y="111.8" font-size="10.2" text-anchor="middle" fill="#1a1a1a">70E</text>
<text x="47.12" y="111.8" font-size="10.2" text-anchor="middle" fill="#1a1a1a">80E</text>
<text x="84.83" y="111.8" font-size="10.2" text-anchor="middle" fill="#1a1a1a">90E</text>
<text x="103.2" y="87.3" font-size="17" fill="#000" text-anchor="end" style="stroke-width:0.15px">i</text>
</g>
<rect x="402.1" y="47.50" width="7.9" height="10.41" fill="#4b0c9a"/>
<rect x="402.1" y="57.61" width="7.9" height="10.41" fill="#7a0a7e"/>
<rect x="402.1" y="67.73" width="7.9" height="10.41" fill="#b8064a"/>
<rect x="402.1" y="77.84" width="7.9" height="10.41" fill="#e8001e"/>
<rect x="402.1" y="87.95" width="7.9" height="10.41" fill="#ff2a00"/>
<rect x="402.1" y="98.07" width="7.9" height="10.41" fill="#ff5a00"/>
<rect x="402.1" y="108.18" width="7.9" height="10.41" fill="#ff8000"/>
<rect x="402.1" y="118.30" width="7.9" height="10.41" fill="#ffa000"/>
<rect x="402.1" y="128.41" width="7.9" height="10.41" fill="#ffbe00"/>
<rect x="402.1" y="138.52" width="7.9" height="10.41" fill="#ffd800"/>
<rect x="402.1" y="148.64" width="7.9" height="10.41" fill="#fff000"/>
<rect x="402.1" y="158.75" width="7.9" height="10.41" fill="#dcec10"/>
<rect x="402.1" y="168.86" width="7.9" height="10.41" fill="#a8dc1e"/>
<rect x="402.1" y="178.98" width="7.9" height="10.41" fill="#6cc81e"/>
<rect x="402.1" y="189.09" width="7.9" height="10.41" fill="#14a82c"/>
<rect x="402.1" y="199.20" width="7.9" height="10.41" fill="#14c050"/>
<rect x="402.1" y="209.32" width="7.9" height="10.41" fill="#00d68c"/>
<rect x="402.1" y="219.43" width="7.9" height="10.41" fill="#00e6c8"/>
<rect x="402.1" y="229.55" width="7.9" height="10.41" fill="#00d2f5"/>
<rect x="402.1" y="239.66" width="7.9" height="10.41" fill="#0096f8"/>
<rect x="402.1" y="249.77" width="7.9" height="10.41" fill="#0050f5"/>
<rect x="402.1" y="259.89" width="7.9" height="10.41" fill="#0a14f5"/>
<rect x="402.1" y="47.50" width="7.9" height="222.50" fill="none" stroke="#555" stroke-width="0.5"/>
<text x="413.0" y="61.01" font-size="9.6" fill="#1a1a1a">21</text>
<text x="413.0" y="81.24" font-size="9.6" fill="#1a1a1a">19</text>
<text x="413.0" y="101.47" font-size="9.6" fill="#1a1a1a">17</text>
<text x="413.0" y="121.70" font-size="9.6" fill="#1a1a1a">15</text>
<text x="413.0" y="141.92" font-size="9.6" fill="#1a1a1a">13</text>
<text x="413.0" y="162.15" font-size="9.6" fill="#1a1a1a">11</text>
<text x="413.0" y="182.38" font-size="9.6" fill="#1a1a1a">9</text>
<text x="413.0" y="202.60" font-size="9.6" fill="#1a1a1a">7</text>
<text x="413.0" y="222.83" font-size="9.6" fill="#1a1a1a">5</text>
<text x="413.0" y="243.06" font-size="9.6" fill="#1a1a1a">3</text>
<text x="413.0" y="263.29" font-size="9.6" fill="#1a1a1a">1</text>
<rect x="584.0" y="47.60" width="8.4" height="18.80" fill="#f40a14"/>
<rect x="584.0" y="66.10" width="8.4" height="18.80" fill="#ff5a0a"/>
<rect x="584.0" y="84.60" width="8.4" height="18.80" fill="#ffa500"/>
<rect x="584.0" y="103.10" width="8.4" height="18.80" fill="#ffd700"/>
<rect x="584.0" y="121.60" width="8.4" height="18.80" fill="#fff000"/>
<rect x="584.0" y="140.10" width="8.4" height="18.80" fill="#fffac8"/>
<rect x="584.0" y="158.60" width="8.4" height="18.80" fill="#b8e6c0"/>
<rect x="584.0" y="177.10" width="8.4" height="18.80" fill="#34b040"/>
<rect x="584.0" y="195.60" width="8.4" height="18.80" fill="#0e7262"/>
<rect x="584.0" y="214.10" width="8.4" height="18.80" fill="#1010ec"/>
<rect x="584.0" y="232.60" width="8.4" height="18.80" fill="#3c12c4"/>
<rect x="584.0" y="251.10" width="8.4" height="18.80" fill="#4e1488"/>
<rect x="584.0" y="47.60" width="8.4" height="222.00" fill="none" stroke="#555" stroke-width="0.5"/>
<text x="595.4" y="69.50" font-size="9.6" fill="#1a1a1a">5</text>
<text x="595.4" y="106.50" font-size="9.6" fill="#1a1a1a">3</text>
<text x="595.4" y="143.50" font-size="9.6" fill="#1a1a1a">1</text>
<text x="595.4" y="180.50" font-size="9.6" fill="#1a1a1a">-1</text>
<text x="595.4" y="217.50" font-size="9.6" fill="#1a1a1a">-3</text>
<text x="595.4" y="254.50" font-size="9.6" fill="#1a1a1a">-5</text>
</svg></body></html>
